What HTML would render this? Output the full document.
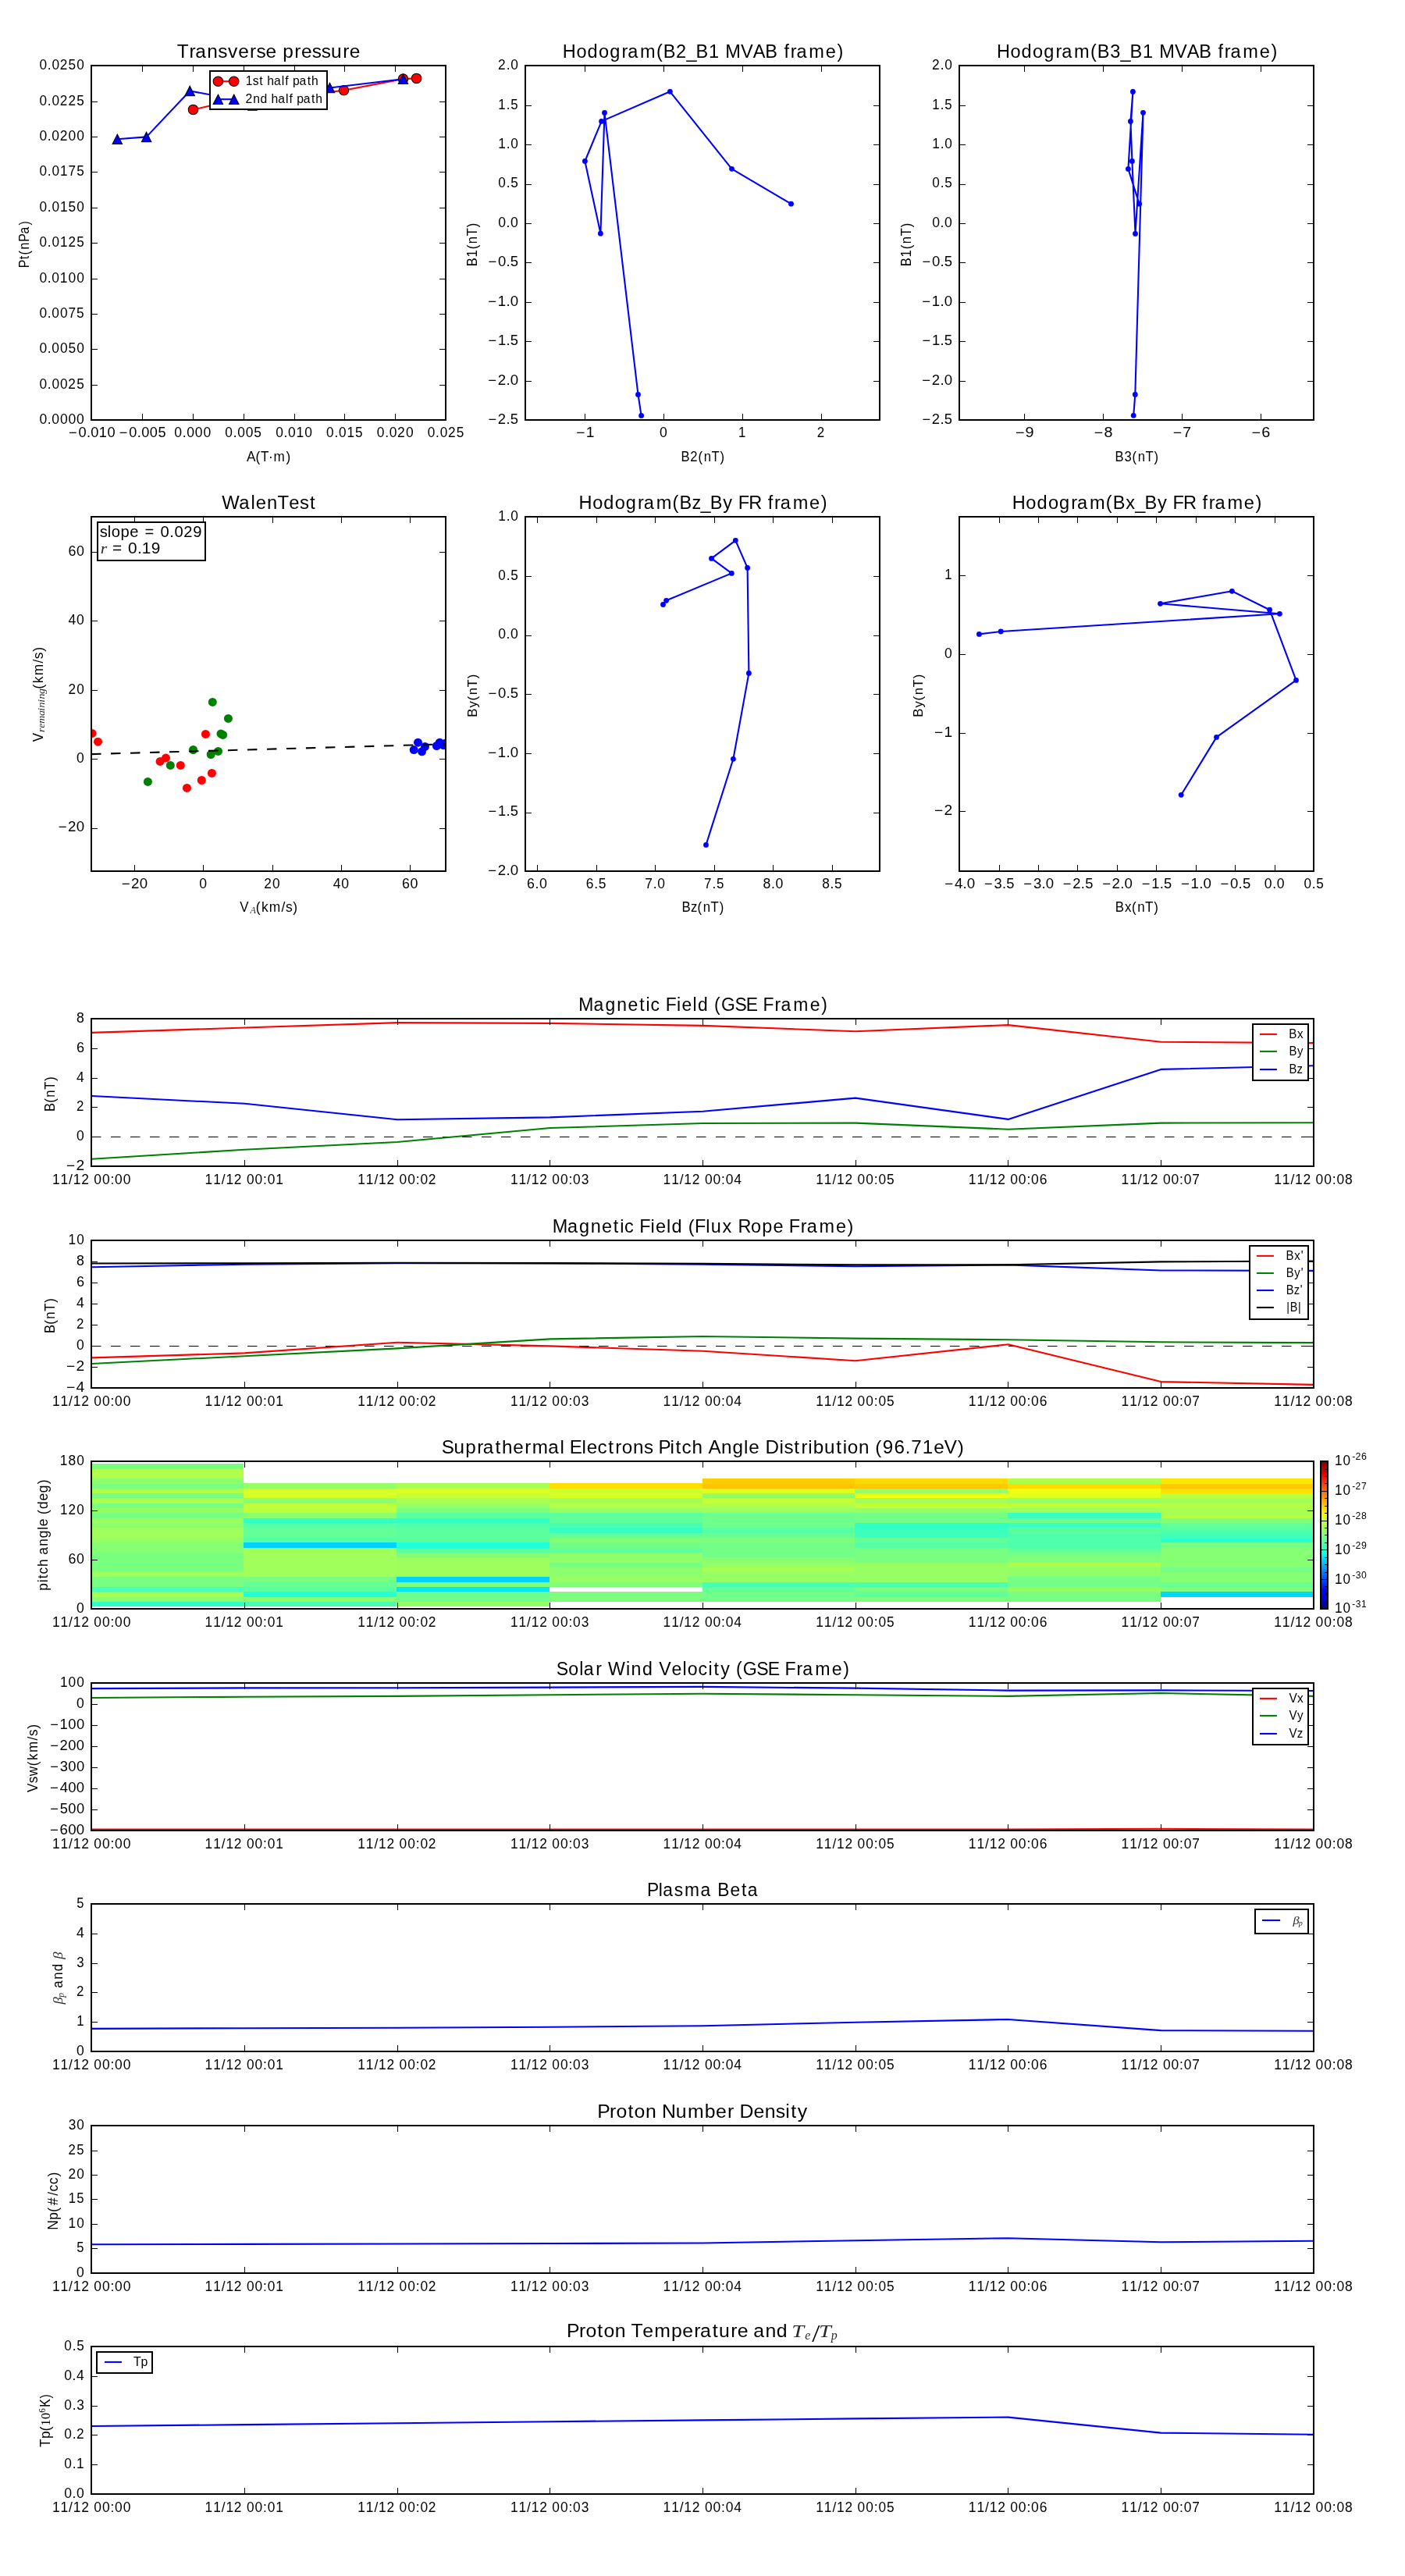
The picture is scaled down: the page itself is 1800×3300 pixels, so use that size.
<!DOCTYPE html>
<html><head><meta charset="utf-8"><title>Flux rope event plots</title>
<style>html,body{margin:0;padding:0;background:#fff}svg{display:block;will-change:transform}text{white-space:pre;font-kerning:none}</style></head><body>
<svg width="1800" height="3300" viewBox="0 0 1800 3300">
<rect x="0" y="0" width="1800" height="3300" fill="#fff"/>
<clipPath id="c1"><rect x="117" y="84" width="454" height="454"/></clipPath>
<g clip-path="url(#c1)">
<polyline points="247.50,140.40 269.00,135.60 323.40,130.00 440.50,115.80 516.50,101.10 533.60,100.40" fill="none" stroke="#ff0000" stroke-width="2.08" stroke-linejoin="round" stroke-linecap="butt"/>
<line x1="317.2" y1="140.8" x2="329.7" y2="140.8" stroke="#000" stroke-width="2.08"/>
<circle cx="247.5" cy="140.4" r="6.25" fill="#ff0000" stroke="#000" stroke-width="1.04"/>
<circle cx="440.5" cy="115.8" r="6.25" fill="#ff0000" stroke="#000" stroke-width="1.04"/>
<circle cx="516.5" cy="101.1" r="6.25" fill="#ff0000" stroke="#000" stroke-width="1.04"/>
<circle cx="533.6" cy="100.4" r="6.25" fill="#ff0000" stroke="#000" stroke-width="1.04"/>
<polyline points="150.30,178.30 187.60,175.40 243.20,116.50 269.00,121.20 340.00,127.00 422.50,112.50 516.50,101.30" fill="none" stroke="#0000ff" stroke-width="2.08" stroke-linejoin="round" stroke-linecap="butt"/>
<path d="M150.30 172.05 L156.55 184.55 L144.05 184.55 Z" fill="#0000ff" stroke="#000" stroke-width="1.04" stroke-linejoin="miter"/>
<path d="M187.60 169.15 L193.85 181.65 L181.35 181.65 Z" fill="#0000ff" stroke="#000" stroke-width="1.04" stroke-linejoin="miter"/>
<path d="M243.20 110.25 L249.45 122.75 L236.95 122.75 Z" fill="#0000ff" stroke="#000" stroke-width="1.04" stroke-linejoin="miter"/>
<path d="M422.50 106.25 L428.75 118.75 L416.25 118.75 Z" fill="#0000ff" stroke="#000" stroke-width="1.04" stroke-linejoin="miter"/>
<path d="M516.50 95.05 L522.75 107.55 L510.25 107.55 Z" fill="#0000ff" stroke="#000" stroke-width="1.04" stroke-linejoin="miter"/>
</g>
<path d="M117.5 538 v-8.33 M117.5 84 v8.33 M182.5 538 v-8.33 M182.5 84 v8.33 M247.5 538 v-8.33 M247.5 84 v8.33 M312.5 538 v-8.33 M312.5 84 v8.33 M377.5 538 v-8.33 M377.5 84 v8.33 M441.5 538 v-8.33 M441.5 84 v8.33 M506.5 538 v-8.33 M506.5 84 v8.33 M571.5 538 v-8.33 M571.5 84 v8.33 M117 538.5 h8.33 M571 538.5 h-8.33 M117 493.5 h8.33 M571 493.5 h-8.33 M117 447.5 h8.33 M571 447.5 h-8.33 M117 402.5 h8.33 M571 402.5 h-8.33 M117 357.5 h8.33 M571 357.5 h-8.33 M117 311.5 h8.33 M571 311.5 h-8.33 M117 266.5 h8.33 M571 266.5 h-8.33 M117 220.5 h8.33 M571 220.5 h-8.33 M117 175.5 h8.33 M571 175.5 h-8.33 M117 130.5 h8.33 M571 130.5 h-8.33 M117 84.5 h8.33 M571 84.5 h-8.33" stroke="#000" stroke-width="1" fill="none" shape-rendering="crispEdges"/>
<rect x="117" y="84" width="454" height="454" fill="none" stroke="#000" stroke-width="2" shape-rendering="crispEdges"/>
<text transform="translate(117.10,560.30) scale(1.0448,1)" x="-27.93 -15.93 -5.90 -0.71 9.34 19.59" y="0" font-family='"Liberation Sans", sans-serif' font-size="17.44" fill="#000">−0.010</text>
<text transform="translate(181.96,560.30) scale(1.0412,1)" x="-28.01 -15.97 -5.91 -0.70 9.49 19.61" y="0" font-family='"Liberation Sans", sans-serif' font-size="17.44" fill="#000">−0.005</text>
<text transform="translate(246.81,560.30) scale(1.0086,1)" x="-23.25 -12.94 -7.48 3.03 13.54" y="0" font-family='"Liberation Sans", sans-serif' font-size="17.44" fill="#000">0.000</text>
<text transform="translate(311.67,560.30) scale(0.9952,1)" x="-23.50 -13.09 -7.52 3.14 13.73" y="0" font-family='"Liberation Sans", sans-serif' font-size="17.44" fill="#000">0.005</text>
<text transform="translate(376.53,560.30) scale(0.9987,1)" x="-23.43 -13.05 -7.51 3.02 13.73" y="0" font-family='"Liberation Sans", sans-serif' font-size="17.44" fill="#000">0.010</text>
<text transform="translate(441.39,560.30) scale(0.9849,1)" x="-23.69 -13.20 -7.55 3.13 13.92" y="0" font-family='"Liberation Sans", sans-serif' font-size="17.44" fill="#000">0.015</text>
<text transform="translate(506.24,560.30) scale(1.0002,1)" x="-23.40 -13.03 -7.51 2.88 13.70" y="0" font-family='"Liberation Sans", sans-serif' font-size="17.44" fill="#000">0.020</text>
<text transform="translate(571.10,560.30) scale(0.9867,1)" x="-23.66 -13.18 -7.54 2.98 13.89" y="0" font-family='"Liberation Sans", sans-serif' font-size="17.44" fill="#000">0.025</text>
<text transform="translate(108.30,543.10) scale(1.0083,1)" x="-57.43 -47.12 -41.66 -31.15 -20.63 -10.11" y="0" font-family='"Liberation Sans", sans-serif' font-size="17.44" fill="#000">0.0000</text>
<text transform="translate(108.30,497.70) scale(0.9907,1)" x="-58.37 -47.92 -42.32 -31.61 -21.13 -10.27" y="0" font-family='"Liberation Sans", sans-serif' font-size="17.44" fill="#000">0.0025</text>
<text transform="translate(108.30,452.30) scale(0.9975,1)" x="-58.00 -47.61 -42.06 -31.43 -20.86 -10.17" y="0" font-family='"Liberation Sans", sans-serif' font-size="17.44" fill="#000">0.0050</text>
<text transform="translate(108.30,406.90) scale(0.9933,1)" x="-58.23 -47.80 -42.22 -31.54 -20.90 -10.26" y="0" font-family='"Liberation Sans", sans-serif' font-size="17.44" fill="#000">0.0075</text>
<text transform="translate(108.30,361.50) scale(1.0003,1)" x="-57.85 -47.48 -41.96 -31.44 -20.75 -10.15" y="0" font-family='"Liberation Sans", sans-serif' font-size="17.44" fill="#000">0.0100</text>
<text transform="translate(108.30,316.10) scale(0.9823,1)" x="-58.83 -48.31 -42.64 -31.93 -21.27 -10.32" y="0" font-family='"Liberation Sans", sans-serif' font-size="17.44" fill="#000">0.0125</text>
<text transform="translate(108.30,270.70) scale(0.9893,1)" x="-58.44 -47.98 -42.37 -31.74 -21.00 -10.21" y="0" font-family='"Liberation Sans", sans-serif' font-size="17.44" fill="#000">0.0150</text>
<text transform="translate(108.30,225.30) scale(0.9850,1)" x="-58.68 -48.18 -42.53 -31.85 -21.04 -10.30" y="0" font-family='"Liberation Sans", sans-serif' font-size="17.44" fill="#000">0.0175</text>
<text transform="translate(108.30,179.90) scale(1.0016,1)" x="-57.79 -47.42 -41.91 -31.54 -20.73 -10.15" y="0" font-family='"Liberation Sans", sans-serif' font-size="17.44" fill="#000">0.0200</text>
<text transform="translate(108.30,134.50) scale(0.9837,1)" x="-58.75 -48.24 -42.58 -32.03 -21.25 -10.31" y="0" font-family='"Liberation Sans", sans-serif' font-size="17.44" fill="#000">0.0225</text>
<text transform="translate(108.30,89.10) scale(0.9907,1)" x="-58.37 -47.92 -42.32 -31.84 -20.98 -10.21" y="0" font-family='"Liberation Sans", sans-serif' font-size="17.44" fill="#000">0.0250</text>
<text transform="translate(344.50,73.60) scale(0.9898,1)" x="-118.84 -103.14 -95.36 -80.00 -65.83 -53.11 -39.78 -24.76 -16.30 -3.96 10.23 17.97 33.12 41.86 55.82 67.89 80.35 95.69 104.42" y="0" font-family='"Liberation Sans", sans-serif' font-size="24.71" fill="#000">Transverse pressure</text>
<text transform="translate(344.20,591.00) scale(0.9853,1)" x="-28.51 -16.95 -10.46 -0.19 6.42 22.71" y="0" font-family='"Liberation Sans", sans-serif' font-size="17.44" fill="#000">A(T·m)</text>
<text transform="translate(37.00,313.20) rotate(-90) scale(0.9084,1)" x="-33.21 -21.06 -14.76 -6.83 3.84 14.97 27.21" y="0" font-family='"Liberation Sans", sans-serif' font-size="17.44" fill="#000">Pt(nPa)</text>
<rect x="269" y="91" width="150" height="48.8" fill="#fff" stroke="#000" stroke-width="2" shape-rendering="crispEdges"/>
<line x1="279.40" y1="104.20" x2="299.70" y2="104.20" stroke="#ff0000" stroke-width="2.08"/>
<circle cx="279.4" cy="104.2" r="6.25" fill="#ff0000" stroke="#000" stroke-width="1.04"/>
<circle cx="299.7" cy="104.2" r="6.25" fill="#ff0000" stroke="#000" stroke-width="1.04"/>
<line x1="279.40" y1="127.20" x2="299.70" y2="127.20" stroke="#0000ff" stroke-width="2.08"/>
<path d="M279.40 121.05 L285.65 133.55 L273.15 133.55 Z" fill="#0000ff" stroke="#000" stroke-width="1.04"/>
<path d="M299.70 121.05 L305.95 133.55 L293.45 133.55 Z" fill="#0000ff" stroke="#000" stroke-width="1.04"/>
<text transform="translate(314.40,108.80) scale(0.9828,1)" x="0.26 9.61 18.12 23.50 28.45 37.26 47.21 51.70 56.55 61.59 70.32 80.64 86.19" y="0" font-family='"Liberation Sans", sans-serif' font-size="15.99" fill="#000">1st half path</text>
<text transform="translate(314.40,131.80) scale(0.9819,1)" x="0.15 9.95 19.39 28.88 33.84 42.65 52.61 57.10 61.96 67.01 75.74 86.07 91.63" y="0" font-family='"Liberation Sans", sans-serif' font-size="15.99" fill="#000">2nd half path</text>
<clipPath id="c2"><rect x="673" y="84" width="454" height="454"/></clipPath>
<g clip-path="url(#c2)">
<polyline points="1013.50,261.20 937.50,216.30 858.40,117.30 770.60,155.40 749.40,206.50 769.40,299.20 774.50,144.40 817.50,505.40 821.60,532.40" fill="none" stroke="#0000ff" stroke-width="2.08" stroke-linejoin="round" stroke-linecap="butt"/>
<circle cx="1013.50" cy="261.20" r="3.4" fill="#0000ff"/>
<circle cx="937.50" cy="216.30" r="3.4" fill="#0000ff"/>
<circle cx="858.40" cy="117.30" r="3.4" fill="#0000ff"/>
<circle cx="770.60" cy="155.40" r="3.4" fill="#0000ff"/>
<circle cx="749.40" cy="206.50" r="3.4" fill="#0000ff"/>
<circle cx="769.40" cy="299.20" r="3.4" fill="#0000ff"/>
<circle cx="774.50" cy="144.40" r="3.4" fill="#0000ff"/>
<circle cx="817.50" cy="505.40" r="3.4" fill="#0000ff"/>
<circle cx="821.60" cy="532.40" r="3.4" fill="#0000ff"/>
</g>
<path d="M749.5 538 v-8.33 M749.5 84 v8.33 M850.5 538 v-8.33 M850.5 84 v8.33 M951.5 538 v-8.33 M951.5 84 v8.33 M1052.5 538 v-8.33 M1052.5 84 v8.33 M673 84.5 h8.33 M1127 84.5 h-8.33 M673 135.5 h8.33 M1127 135.5 h-8.33 M673 185.5 h8.33 M1127 185.5 h-8.33 M673 236.5 h8.33 M1127 236.5 h-8.33 M673 286.5 h8.33 M1127 286.5 h-8.33 M673 336.5 h8.33 M1127 336.5 h-8.33 M673 387.5 h8.33 M1127 387.5 h-8.33 M673 437.5 h8.33 M1127 437.5 h-8.33 M673 488.5 h8.33 M1127 488.5 h-8.33 M673 538.5 h8.33 M1127 538.5 h-8.33" stroke="#000" stroke-width="1" fill="none" shape-rendering="crispEdges"/>
<rect x="673" y="84" width="454" height="454" fill="none" stroke="#000" stroke-width="2" shape-rendering="crispEdges"/>
<text transform="translate(749.20,560.30) scale(1.1047,1)" x="-9.90 1.36" y="0" font-family='"Liberation Sans", sans-serif' font-size="17.44" fill="#000">−1</text>
<text transform="translate(850.00,560.30) scale(1.0073,1)" x="-4.85" y="0" font-family='"Liberation Sans", sans-serif' font-size="17.44" fill="#000">0</text>
<text transform="translate(950.80,560.30) scale(0.9621,1)" x="-4.94" y="0" font-family='"Liberation Sans", sans-serif' font-size="17.44" fill="#000">1</text>
<text transform="translate(1051.60,560.30) scale(0.9709,1)" x="-5.08" y="0" font-family='"Liberation Sans", sans-serif' font-size="17.44" fill="#000">2</text>
<text transform="translate(664.30,89.10) scale(0.9937,1)" x="-26.41 -15.77 -10.19" y="0" font-family='"Liberation Sans", sans-serif' font-size="17.44" fill="#000">2.0</text>
<text transform="translate(664.30,139.54) scale(0.9635,1)" x="-26.94 -16.19 -10.42" y="0" font-family='"Liberation Sans", sans-serif' font-size="17.44" fill="#000">1.5</text>
<text transform="translate(664.30,189.99) scale(0.9904,1)" x="-26.35 -15.81 -10.21" y="0" font-family='"Liberation Sans", sans-serif' font-size="17.44" fill="#000">1.0</text>
<text transform="translate(664.30,240.43) scale(0.9841,1)" x="-26.40 -15.90 -10.31" y="0" font-family='"Liberation Sans", sans-serif' font-size="17.44" fill="#000">0.5</text>
<text transform="translate(664.30,290.88) scale(1.0097,1)" x="-25.85 -15.56 -10.11" y="0" font-family='"Liberation Sans", sans-serif' font-size="17.44" fill="#000">0.0</text>
<text transform="translate(664.30,341.32) scale(1.0624,1)" x="-36.62 -24.81 -14.91 -9.90" y="0" font-family='"Liberation Sans", sans-serif' font-size="17.44" fill="#000">−0.5</text>
<text transform="translate(664.30,391.77) scale(1.0689,1)" x="-36.43 -24.79 -14.83 -9.81" y="0" font-family='"Liberation Sans", sans-serif' font-size="17.44" fill="#000">−1.0</text>
<text transform="translate(664.30,442.21) scale(1.0510,1)" x="-36.96 -25.12 -15.04 -9.96" y="0" font-family='"Liberation Sans", sans-serif' font-size="17.44" fill="#000">−1.5</text>
<text transform="translate(664.30,492.66) scale(1.0699,1)" x="-36.40 -24.88 -14.82 -9.81" y="0" font-family='"Liberation Sans", sans-serif' font-size="17.44" fill="#000">−2.0</text>
<text transform="translate(664.30,543.10) scale(1.0522,1)" x="-36.92 -25.21 -15.03 -9.95" y="0" font-family='"Liberation Sans", sans-serif' font-size="17.44" fill="#000">−2.5</text>
<text transform="translate(900.50,73.60) scale(0.9530,1)" x="-188.50 -170.04 -155.20 -140.06 -125.23 -109.27 -101.08 -84.46 -62.57 -53.16 -36.19 -22.15 -9.34 7.83 22.87 30.21 50.85 67.30 83.75 100.66 109.03 117.69 125.87 142.49 165.01 180.43" y="0" font-family='"Liberation Sans", sans-serif' font-size="24.71" fill="#000">Hodogram(B2_B1 MVAB frame)</text>
<text transform="translate(900.30,591.00) scale(0.9535,1)" x="-29.09 -16.79 -6.07 1.41 11.77 23.38" y="0" font-family='"Liberation Sans", sans-serif' font-size="17.44" fill="#000">B2(nT)</text>
<text transform="translate(610.90,313.60) rotate(-90) scale(0.9518,1)" x="-29.13 -16.66 -6.08 1.42 11.80 23.42" y="0" font-family='"Liberation Sans", sans-serif' font-size="17.44" fill="#000">B1(nT)</text>
<clipPath id="c3"><rect x="1229" y="84" width="454" height="454"/></clipPath>
<g clip-path="url(#c3)">
<polyline points="1459.60,261.20 1445.40,216.40 1451.40,117.50 1448.40,155.50 1450.40,206.50 1454.50,299.40 1464.50,144.30 1454.30,505.40 1452.20,532.30" fill="none" stroke="#0000ff" stroke-width="2.08" stroke-linejoin="round" stroke-linecap="butt"/>
<circle cx="1459.60" cy="261.20" r="3.4" fill="#0000ff"/>
<circle cx="1445.40" cy="216.40" r="3.4" fill="#0000ff"/>
<circle cx="1451.40" cy="117.50" r="3.4" fill="#0000ff"/>
<circle cx="1448.40" cy="155.50" r="3.4" fill="#0000ff"/>
<circle cx="1450.40" cy="206.50" r="3.4" fill="#0000ff"/>
<circle cx="1454.50" cy="299.40" r="3.4" fill="#0000ff"/>
<circle cx="1464.50" cy="144.30" r="3.4" fill="#0000ff"/>
<circle cx="1454.30" cy="505.40" r="3.4" fill="#0000ff"/>
<circle cx="1452.20" cy="532.30" r="3.4" fill="#0000ff"/>
</g>
<path d="M1312.5 538 v-8.33 M1312.5 84 v8.33 M1413.5 538 v-8.33 M1413.5 84 v8.33 M1514.5 538 v-8.33 M1514.5 84 v8.33 M1615.5 538 v-8.33 M1615.5 84 v8.33 M1229 84.5 h8.33 M1683 84.5 h-8.33 M1229 135.5 h8.33 M1683 135.5 h-8.33 M1229 185.5 h8.33 M1683 185.5 h-8.33 M1229 236.5 h8.33 M1683 236.5 h-8.33 M1229 286.5 h8.33 M1683 286.5 h-8.33 M1229 336.5 h8.33 M1683 336.5 h-8.33 M1229 387.5 h8.33 M1683 387.5 h-8.33 M1229 437.5 h8.33 M1683 437.5 h-8.33 M1229 488.5 h8.33 M1683 488.5 h-8.33 M1229 538.5 h8.33 M1683 538.5 h-8.33" stroke="#000" stroke-width="1" fill="none" shape-rendering="crispEdges"/>
<rect x="1229" y="84" width="454" height="454" fill="none" stroke="#000" stroke-width="2" shape-rendering="crispEdges"/>
<text transform="translate(1312.00,560.30) scale(1.1382,1)" x="-9.76 1.24" y="0" font-family='"Liberation Sans", sans-serif' font-size="17.44" fill="#000">−9</text>
<text transform="translate(1412.90,560.30) scale(1.1266,1)" x="-9.80 1.34" y="0" font-family='"Liberation Sans", sans-serif' font-size="17.44" fill="#000">−8</text>
<text transform="translate(1513.80,560.30) scale(1.1124,1)" x="-9.86 1.39" y="0" font-family='"Liberation Sans", sans-serif' font-size="17.44" fill="#000">−7</text>
<text transform="translate(1614.70,560.30) scale(1.1393,1)" x="-9.75 1.27" y="0" font-family='"Liberation Sans", sans-serif' font-size="17.44" fill="#000">−6</text>
<text transform="translate(1220.30,89.10) scale(0.9937,1)" x="-26.41 -15.77 -10.19" y="0" font-family='"Liberation Sans", sans-serif' font-size="17.44" fill="#000">2.0</text>
<text transform="translate(1220.30,139.54) scale(0.9635,1)" x="-26.94 -16.19 -10.42" y="0" font-family='"Liberation Sans", sans-serif' font-size="17.44" fill="#000">1.5</text>
<text transform="translate(1220.30,189.99) scale(0.9904,1)" x="-26.35 -15.81 -10.21" y="0" font-family='"Liberation Sans", sans-serif' font-size="17.44" fill="#000">1.0</text>
<text transform="translate(1220.30,240.43) scale(0.9841,1)" x="-26.40 -15.90 -10.31" y="0" font-family='"Liberation Sans", sans-serif' font-size="17.44" fill="#000">0.5</text>
<text transform="translate(1220.30,290.88) scale(1.0097,1)" x="-25.85 -15.56 -10.11" y="0" font-family='"Liberation Sans", sans-serif' font-size="17.44" fill="#000">0.0</text>
<text transform="translate(1220.30,341.32) scale(1.0624,1)" x="-36.62 -24.81 -14.91 -9.90" y="0" font-family='"Liberation Sans", sans-serif' font-size="17.44" fill="#000">−0.5</text>
<text transform="translate(1220.30,391.77) scale(1.0689,1)" x="-36.43 -24.79 -14.83 -9.81" y="0" font-family='"Liberation Sans", sans-serif' font-size="17.44" fill="#000">−1.0</text>
<text transform="translate(1220.30,442.21) scale(1.0510,1)" x="-36.96 -25.12 -15.04 -9.96" y="0" font-family='"Liberation Sans", sans-serif' font-size="17.44" fill="#000">−1.5</text>
<text transform="translate(1220.30,492.66) scale(1.0699,1)" x="-36.40 -24.88 -14.82 -9.81" y="0" font-family='"Liberation Sans", sans-serif' font-size="17.44" fill="#000">−2.0</text>
<text transform="translate(1220.30,543.10) scale(1.0522,1)" x="-36.92 -25.21 -15.03 -9.95" y="0" font-family='"Liberation Sans", sans-serif' font-size="17.44" fill="#000">−2.5</text>
<text transform="translate(1456.50,73.60) scale(0.9528,1)" x="-188.53 -170.06 -155.23 -140.08 -125.25 -109.28 -101.10 -84.47 -62.58 -53.17 -35.84 -22.15 -9.34 7.84 22.87 30.22 50.86 67.32 83.77 100.68 109.05 117.71 125.90 142.52 165.04 180.46" y="0" font-family='"Liberation Sans", sans-serif' font-size="24.71" fill="#000">Hodogram(B3_B1 MVAB frame)</text>
<text transform="translate(1456.30,591.00) scale(0.9530,1)" x="-29.10 -16.54 -6.08 1.41 11.78 23.39" y="0" font-family='"Liberation Sans", sans-serif' font-size="17.44" fill="#000">B3(nT)</text>
<text transform="translate(1167.00,313.60) rotate(-90) scale(0.9518,1)" x="-29.13 -16.66 -6.08 1.42 11.80 23.42" y="0" font-family='"Liberation Sans", sans-serif' font-size="17.44" fill="#000">B1(nT)</text>
<clipPath id="c4"><rect x="117" y="662" width="454" height="454"/></clipPath>
<g clip-path="url(#c4)">
<circle cx="118.0" cy="939.4" r="5.5" fill="#ff0000"/>
<circle cx="125.5" cy="950.2" r="5.5" fill="#ff0000"/>
<circle cx="205.1" cy="975.4" r="5.5" fill="#ff0000"/>
<circle cx="212.5" cy="971.1" r="5.5" fill="#ff0000"/>
<circle cx="231.3" cy="980.4" r="5.5" fill="#ff0000"/>
<circle cx="239.5" cy="1009.4" r="5.5" fill="#ff0000"/>
<circle cx="258.3" cy="999.5" r="5.5" fill="#ff0000"/>
<circle cx="271.4" cy="990.4" r="5.5" fill="#ff0000"/>
<circle cx="263.4" cy="940.4" r="5.5" fill="#ff0000"/>
<circle cx="189.4" cy="1001.4" r="5.5" fill="#008000"/>
<circle cx="218.3" cy="980.4" r="5.5" fill="#008000"/>
<circle cx="247.5" cy="960.5" r="5.5" fill="#008000"/>
<circle cx="279.5" cy="962.4" r="5.5" fill="#008000"/>
<circle cx="270.2" cy="966.5" r="5.5" fill="#008000"/>
<circle cx="283.0" cy="940.0" r="5.5" fill="#008000"/>
<circle cx="285.6" cy="941.4" r="5.5" fill="#008000"/>
<circle cx="292.4" cy="920.4" r="5.5" fill="#008000"/>
<circle cx="272.3" cy="899.4" r="5.5" fill="#008000"/>
<circle cx="535.5" cy="951.2" r="5.5" fill="#0000ff"/>
<circle cx="530.2" cy="960.6" r="5.5" fill="#0000ff"/>
<circle cx="540.5" cy="962.8" r="5.5" fill="#0000ff"/>
<circle cx="544.5" cy="956.4" r="5.5" fill="#0000ff"/>
<circle cx="559.4" cy="955.5" r="5.5" fill="#0000ff"/>
<circle cx="563.3" cy="951.2" r="5.5" fill="#0000ff"/>
<circle cx="568.0" cy="954.7" r="5.5" fill="#0000ff"/>
<circle cx="570.8" cy="952.2" r="5.5" fill="#0000ff"/>
<line x1="117" y1="966.1" x2="571" y2="953.3" stroke="#000" stroke-width="2.08" stroke-dasharray="12.5 12.5"/>
</g>
<path d="M172.5 1116 v-8.33 M172.5 662 v8.33 M260.5 1116 v-8.33 M260.5 662 v8.33 M349.5 1116 v-8.33 M349.5 662 v8.33 M437.5 1116 v-8.33 M437.5 662 v8.33 M525.5 1116 v-8.33 M525.5 662 v8.33 M117 707.5 h8.33 M571 707.5 h-8.33 M117 795.5 h8.33 M571 795.5 h-8.33 M117 884.5 h8.33 M571 884.5 h-8.33 M117 972.5 h8.33 M571 972.5 h-8.33 M117 1061.5 h8.33 M571 1061.5 h-8.33" stroke="#000" stroke-width="1" fill="none" shape-rendering="crispEdges"/>
<rect x="117" y="662" width="454" height="454" fill="none" stroke="#000" stroke-width="2" shape-rendering="crispEdges"/>
<text transform="translate(171.70,1138.30) scale(1.0723,1)" x="-14.99 -3.49 6.60" y="0" font-family='"Liberation Sans", sans-serif' font-size="17.44" fill="#000">−20</text>
<text transform="translate(260.10,1138.30) scale(1.0073,1)" x="-4.85" y="0" font-family='"Liberation Sans", sans-serif' font-size="17.44" fill="#000">0</text>
<text transform="translate(348.50,1138.30) scale(0.9896,1)" x="-10.43 0.50" y="0" font-family='"Liberation Sans", sans-serif' font-size="17.44" fill="#000">20</text>
<text transform="translate(436.90,1138.30) scale(1.0074,1)" x="-10.12 0.41" y="0" font-family='"Liberation Sans", sans-serif' font-size="17.44" fill="#000">40</text>
<text transform="translate(525.30,1138.30) scale(1.0246,1)" x="-10.03 0.32" y="0" font-family='"Liberation Sans", sans-serif' font-size="17.44" fill="#000">60</text>
<text transform="translate(108.30,711.80) scale(1.0246,1)" x="-20.38 -10.03" y="0" font-family='"Liberation Sans", sans-serif' font-size="17.44" fill="#000">60</text>
<text transform="translate(108.30,800.20) scale(1.0074,1)" x="-20.65 -10.12" y="0" font-family='"Liberation Sans", sans-serif' font-size="17.44" fill="#000">40</text>
<text transform="translate(108.30,888.60) scale(0.9896,1)" x="-21.15 -10.21" y="0" font-family='"Liberation Sans", sans-serif' font-size="17.44" fill="#000">20</text>
<text transform="translate(108.30,977.00) scale(1.0073,1)" x="-10.12" y="0" font-family='"Liberation Sans", sans-serif' font-size="17.44" fill="#000">0</text>
<text transform="translate(108.30,1065.40) scale(1.0723,1)" x="-31.39 -19.89 -9.80" y="0" font-family='"Liberation Sans", sans-serif' font-size="17.44" fill="#000">−20</text>
<text transform="translate(344.50,651.60) scale(0.9642,1)" x="-62.52 -39.58 -23.98 -17.44 -2.60 11.48 26.76 41.08 54.45" y="0" font-family='"Liberation Sans", sans-serif' font-size="24.71" fill="#000">WalenTest</text>
<rect x="125" y="669" width="138" height="48.8" fill="#fff" stroke="#000" stroke-width="2" shape-rendering="crispEdges"/>
<text transform="translate(127.70,687.50) scale(0.9929,1)" x="-0.03 10.20 15.21 27.09 38.82 50.42 58.22 72.24 78.42 90.25 96.43 108.20 120.40" y="0" font-family='"Liberation Sans", sans-serif' font-size="20.35" fill="#000">slope = 0.029</text>
<text transform="translate(129.00,709.20) scale(1.1583,1)" x="-0.33" y="0" font-family='"Liberation Serif", serif' font-size="18.75" font-style="italic" fill="#2a2a2a">r</text>
<text transform="translate(136.30,709.20) scale(1.0242,1)" x="0.08 7.55 21.24 27.14 38.70 44.49 56.19" y="0" font-family='"Liberation Sans", sans-serif' font-size="20.35" fill="#000"> = 0.19</text>
<text transform="translate(307.30,1167.50) scale(0.9698,1)" x="0.06" y="0" font-family='"Liberation Sans", sans-serif' font-size="17.44" fill="#000">V</text>
<text transform="translate(319.40,1169.80) scale(1.0285,1)" x="1.04" y="0" font-family='"Liberation Serif", serif' font-size="11.67" font-style="italic" fill="#2a2a2a">A</text>
<text transform="translate(327.80,1167.50) scale(0.9989,1)" x="-0.09 7.11 17.08 32.81 38.15 47.53" y="0" font-family='"Liberation Sans", sans-serif' font-size="17.44" fill="#000">(km/s)</text>
<text transform="translate(55.00,950.20) rotate(-90) scale(0.9698,1)" x="0.06" y="0" font-family='"Liberation Sans", sans-serif' font-size="17.44" fill="#000">V</text>
<text transform="translate(57.10,937.60) rotate(-90) scale(1.1867,1)" x="-0.26 4.13 9.14 17.42 22.65 26.28 31.93 35.57 41.06" y="0" font-family='"Liberation Serif", serif' font-size="11.67" font-style="italic" fill="#2a2a2a">remaining</text>
<text transform="translate(55.00,882.30) rotate(-90) scale(0.9989,1)" x="-0.09 7.11 17.08 32.81 38.15 47.53" y="0" font-family='"Liberation Sans", sans-serif' font-size="17.44" fill="#000">(km/s)</text>
<clipPath id="c5"><rect x="673" y="662" width="454" height="454"/></clipPath>
<g clip-path="url(#c5)">
<polyline points="849.50,774.50 853.60,769.30 937.30,734.40 911.50,715.40 942.30,692.30 957.60,727.40 959.40,862.40 939.40,972.30 904.50,1082.40" fill="none" stroke="#0000ff" stroke-width="2.08" stroke-linejoin="round" stroke-linecap="butt"/>
<circle cx="849.50" cy="774.50" r="3.4" fill="#0000ff"/>
<circle cx="853.60" cy="769.30" r="3.4" fill="#0000ff"/>
<circle cx="937.30" cy="734.40" r="3.4" fill="#0000ff"/>
<circle cx="911.50" cy="715.40" r="3.4" fill="#0000ff"/>
<circle cx="942.30" cy="692.30" r="3.4" fill="#0000ff"/>
<circle cx="957.60" cy="727.40" r="3.4" fill="#0000ff"/>
<circle cx="959.40" cy="862.40" r="3.4" fill="#0000ff"/>
<circle cx="939.40" cy="972.30" r="3.4" fill="#0000ff"/>
<circle cx="904.50" cy="1082.40" r="3.4" fill="#0000ff"/>
</g>
<path d="M688.5 1116 v-8.33 M688.5 662 v8.33 M764.5 1116 v-8.33 M764.5 662 v8.33 M839.5 1116 v-8.33 M839.5 662 v8.33 M915.5 1116 v-8.33 M915.5 662 v8.33 M990.5 1116 v-8.33 M990.5 662 v8.33 M1066.5 1116 v-8.33 M1066.5 662 v8.33 M673 662.5 h8.33 M1127 662.5 h-8.33 M673 738.5 h8.33 M1127 738.5 h-8.33 M673 814.5 h8.33 M1127 814.5 h-8.33 M673 889.5 h8.33 M1127 889.5 h-8.33 M673 965.5 h8.33 M1127 965.5 h-8.33 M673 1041.5 h8.33 M1127 1041.5 h-8.33 M673 1116.5 h8.33 M1127 1116.5 h-8.33" stroke="#000" stroke-width="1" fill="none" shape-rendering="crispEdges"/>
<rect x="673" y="662" width="454" height="454" fill="none" stroke="#000" stroke-width="2" shape-rendering="crispEdges"/>
<text transform="translate(688.00,1138.30) scale(1.0255,1)" x="-12.61 -2.43 2.90" y="0" font-family='"Liberation Sans", sans-serif' font-size="17.44" fill="#000">6.0</text>
<text transform="translate(763.60,1138.30) scale(0.9995,1)" x="-12.81 -2.43 3.04" y="0" font-family='"Liberation Sans", sans-serif' font-size="17.44" fill="#000">6.5</text>
<text transform="translate(839.20,1138.30) scale(1.0001,1)" x="-12.84 -2.43 3.10" y="0" font-family='"Liberation Sans", sans-serif' font-size="17.44" fill="#000">7.0</text>
<text transform="translate(914.80,1138.30) scale(0.9738,1)" x="-13.05 -2.43 3.24" y="0" font-family='"Liberation Sans", sans-serif' font-size="17.44" fill="#000">7.5</text>
<text transform="translate(990.40,1138.30) scale(1.0147,1)" x="-12.69 -2.43 2.98" y="0" font-family='"Liberation Sans", sans-serif' font-size="17.44" fill="#000">8.0</text>
<text transform="translate(1066.00,1138.30) scale(0.9888,1)" x="-12.90 -2.43 3.12" y="0" font-family='"Liberation Sans", sans-serif' font-size="17.44" fill="#000">8.5</text>
<text transform="translate(664.30,667.10) scale(0.9904,1)" x="-26.35 -15.81 -10.21" y="0" font-family='"Liberation Sans", sans-serif' font-size="17.44" fill="#000">1.0</text>
<text transform="translate(664.30,742.77) scale(0.9841,1)" x="-26.40 -15.90 -10.31" y="0" font-family='"Liberation Sans", sans-serif' font-size="17.44" fill="#000">0.5</text>
<text transform="translate(664.30,818.43) scale(1.0097,1)" x="-25.85 -15.56 -10.11" y="0" font-family='"Liberation Sans", sans-serif' font-size="17.44" fill="#000">0.0</text>
<text transform="translate(664.30,894.10) scale(1.0624,1)" x="-36.62 -24.81 -14.91 -9.90" y="0" font-family='"Liberation Sans", sans-serif' font-size="17.44" fill="#000">−0.5</text>
<text transform="translate(664.30,969.77) scale(1.0689,1)" x="-36.43 -24.79 -14.83 -9.81" y="0" font-family='"Liberation Sans", sans-serif' font-size="17.44" fill="#000">−1.0</text>
<text transform="translate(664.30,1045.43) scale(1.0510,1)" x="-36.96 -25.12 -15.04 -9.96" y="0" font-family='"Liberation Sans", sans-serif' font-size="17.44" fill="#000">−1.5</text>
<text transform="translate(664.30,1121.10) scale(1.0699,1)" x="-36.40 -24.88 -14.82 -9.81" y="0" font-family='"Liberation Sans", sans-serif' font-size="17.44" fill="#000">−2.0</text>
<text transform="translate(900.50,651.60) scale(0.9531,1)" x="-166.80 -148.34 -133.51 -118.37 -103.54 -87.58 -79.40 -62.78 -40.89 -31.48 -14.72 -3.15 9.65 27.11 40.79 47.38 61.70 78.98 87.34 96.00 104.18 120.80 143.31 158.73" y="0" font-family='"Liberation Sans", sans-serif' font-size="24.71" fill="#000">Hodogram(Bz_By FR frame)</text>
<text transform="translate(900.30,1168.00) scale(0.9620,1)" x="-27.92 -15.88 -7.01 0.39 10.66 22.19" y="0" font-family='"Liberation Sans", sans-serif' font-size="17.44" fill="#000">Bz(nT)</text>
<text transform="translate(610.90,891.20) rotate(-90) scale(0.9645,1)" x="-28.44 -15.93 -6.43 0.95 11.19 22.70" y="0" font-family='"Liberation Sans", sans-serif' font-size="17.44" fill="#000">By(nT)</text>
<clipPath id="c6"><rect x="1229" y="662" width="454" height="454"/></clipPath>
<g clip-path="url(#c6)">
<polyline points="1254.40,812.40 1282.20,809.00 1639.40,786.30 1486.50,773.30 1578.40,757.30 1626.60,781.20 1660.50,871.40 1558.50,944.40 1513.20,1018.30" fill="none" stroke="#0000ff" stroke-width="2.08" stroke-linejoin="round" stroke-linecap="butt"/>
<circle cx="1254.40" cy="812.40" r="3.4" fill="#0000ff"/>
<circle cx="1282.20" cy="809.00" r="3.4" fill="#0000ff"/>
<circle cx="1639.40" cy="786.30" r="3.4" fill="#0000ff"/>
<circle cx="1486.50" cy="773.30" r="3.4" fill="#0000ff"/>
<circle cx="1578.40" cy="757.30" r="3.4" fill="#0000ff"/>
<circle cx="1626.60" cy="781.20" r="3.4" fill="#0000ff"/>
<circle cx="1660.50" cy="871.40" r="3.4" fill="#0000ff"/>
<circle cx="1558.50" cy="944.40" r="3.4" fill="#0000ff"/>
<circle cx="1513.20" cy="1018.30" r="3.4" fill="#0000ff"/>
</g>
<path d="M1229.5 1116 v-8.33 M1229.5 662 v8.33 M1280.5 1116 v-8.33 M1280.5 662 v8.33 M1330.5 1116 v-8.33 M1330.5 662 v8.33 M1380.5 1116 v-8.33 M1380.5 662 v8.33 M1431.5 1116 v-8.33 M1431.5 662 v8.33 M1481.5 1116 v-8.33 M1481.5 662 v8.33 M1532.5 1116 v-8.33 M1532.5 662 v8.33 M1582.5 1116 v-8.33 M1582.5 662 v8.33 M1633.5 1116 v-8.33 M1633.5 662 v8.33 M1683.5 1116 v-8.33 M1683.5 662 v8.33 M1229 737.5 h8.33 M1683 737.5 h-8.33 M1229 838.5 h8.33 M1683 838.5 h-8.33 M1229 939.5 h8.33 M1683 939.5 h-8.33 M1229 1039.5 h8.33 M1683 1039.5 h-8.33" stroke="#000" stroke-width="1" fill="none" shape-rendering="crispEdges"/>
<rect x="1229" y="662" width="454" height="454" fill="none" stroke="#000" stroke-width="2" shape-rendering="crispEdges"/>
<text transform="translate(1229.10,1138.30) scale(1.0786,1)" x="-17.38 -5.75 4.04 8.99" y="0" font-family='"Liberation Sans", sans-serif' font-size="17.44" fill="#000">−4.0</text>
<text transform="translate(1279.54,1138.30) scale(1.0502,1)" x="-17.72 -5.75 4.22 9.31" y="0" font-family='"Liberation Sans", sans-serif' font-size="17.44" fill="#000">−3.5</text>
<text transform="translate(1329.99,1138.30) scale(1.0676,1)" x="-17.51 -5.74 4.11 9.13" y="0" font-family='"Liberation Sans", sans-serif' font-size="17.44" fill="#000">−3.0</text>
<text transform="translate(1380.43,1138.30) scale(1.0522,1)" x="-17.69 -5.98 4.21 9.28" y="0" font-family='"Liberation Sans", sans-serif' font-size="17.44" fill="#000">−2.5</text>
<text transform="translate(1430.88,1138.30) scale(1.0699,1)" x="-17.48 -5.96 4.10 9.10" y="0" font-family='"Liberation Sans", sans-serif' font-size="17.44" fill="#000">−2.0</text>
<text transform="translate(1481.32,1138.30) scale(1.0510,1)" x="-17.71 -5.87 4.21 9.29" y="0" font-family='"Liberation Sans", sans-serif' font-size="17.44" fill="#000">−1.5</text>
<text transform="translate(1531.77,1138.30) scale(1.0689,1)" x="-17.50 -5.86 4.10 9.12" y="0" font-family='"Liberation Sans", sans-serif' font-size="17.44" fill="#000">−1.0</text>
<text transform="translate(1582.21,1138.30) scale(1.0624,1)" x="-17.57 -5.77 4.14 9.14" y="0" font-family='"Liberation Sans", sans-serif' font-size="17.44" fill="#000">−0.5</text>
<text transform="translate(1632.66,1138.30) scale(1.0097,1)" x="-12.73 -2.43 3.02" y="0" font-family='"Liberation Sans", sans-serif' font-size="17.44" fill="#000">0.0</text>
<text transform="translate(1683.10,1138.30) scale(0.9841,1)" x="-12.93 -2.43 3.16" y="0" font-family='"Liberation Sans", sans-serif' font-size="17.44" fill="#000">0.5</text>
<text transform="translate(1220.30,741.90) scale(0.9621,1)" x="-10.45" y="0" font-family='"Liberation Sans", sans-serif' font-size="17.44" fill="#000">1</text>
<text transform="translate(1220.30,842.70) scale(1.0073,1)" x="-10.12" y="0" font-family='"Liberation Sans", sans-serif' font-size="17.44" fill="#000">0</text>
<text transform="translate(1220.30,943.50) scale(1.1047,1)" x="-21.02 -9.76" y="0" font-family='"Liberation Sans", sans-serif' font-size="17.44" fill="#000">−1</text>
<text transform="translate(1220.30,1044.30) scale(1.1053,1)" x="-21.01 -9.85" y="0" font-family='"Liberation Sans", sans-serif' font-size="17.44" fill="#000">−2</text>
<text transform="translate(1456.50,651.60) scale(0.9550,1)" x="-167.29 -148.86 -134.06 -118.95 -104.15 -88.22 -80.06 -63.48 -41.62 -32.24 -14.87 -2.36 10.42 27.84 41.51 48.07 62.37 79.61 87.96 96.60 104.76 121.34 143.81 159.21" y="0" font-family='"Liberation Sans", sans-serif' font-size="24.71" fill="#000">Hodogram(Bx_By FR frame)</text>
<text transform="translate(1456.30,1168.00) scale(0.9705,1)" x="-28.31 -15.89 -6.41 0.91 11.09 22.54" y="0" font-family='"Liberation Sans", sans-serif' font-size="17.44" fill="#000">Bx(nT)</text>
<text transform="translate(1182.00,891.20) rotate(-90) scale(0.9645,1)" x="-28.44 -15.93 -6.43 0.95 11.19 22.70" y="0" font-family='"Liberation Sans", sans-serif' font-size="17.44" fill="#000">By(nT)</text>
<clipPath id="p1"><rect x="117" y="1305" width="1566" height="189"/></clipPath>
<g clip-path="url(#p1)">
<line x1="117" y1="1456.5" x2="1683" y2="1456.5" stroke="#000" stroke-width="1.04" stroke-dasharray="12.5 12.5"/>
<polyline points="117.70,1322.90 313.36,1316.50 509.02,1310.10 704.68,1310.90 900.34,1313.90 1096.00,1321.20 1291.66,1313.10 1487.32,1334.80 1682.98,1336.10" fill="none" stroke="#ff0000" stroke-width="2.08" stroke-linejoin="round" stroke-linecap="butt"/>
<polyline points="117.70,1484.70 313.36,1472.80 509.02,1463.00 704.68,1445.00 900.34,1439.00 1096.00,1438.60 1291.66,1446.70 1487.32,1438.60 1682.98,1438.20" fill="none" stroke="#008000" stroke-width="2.08" stroke-linejoin="round" stroke-linecap="butt"/>
<polyline points="117.70,1404.00 313.36,1413.80 509.02,1434.30 704.68,1431.40 900.34,1423.70 1096.00,1406.60 1291.66,1433.90 1487.32,1369.90 1682.98,1365.20" fill="none" stroke="#0000ff" stroke-width="2.08" stroke-linejoin="round" stroke-linecap="butt"/>
</g>
<path d="M117.5 1494 v-8.33 M117.5 1305 v8.33 M313.5 1494 v-8.33 M313.5 1305 v8.33 M509.5 1494 v-8.33 M509.5 1305 v8.33 M704.5 1494 v-8.33 M704.5 1305 v8.33 M900.5 1494 v-8.33 M900.5 1305 v8.33 M1096.5 1494 v-8.33 M1096.5 1305 v8.33 M1291.5 1494 v-8.33 M1291.5 1305 v8.33 M1487.5 1494 v-8.33 M1487.5 1305 v8.33 M1682.5 1494 v-8.33 M1682.5 1305 v8.33 M117 1494.5 h8.33 M1683 1494.5 h-8.33 M117 1456.5 h8.33 M1683 1456.5 h-8.33 M117 1418.5 h8.33 M1683 1418.5 h-8.33 M117 1381.5 h8.33 M1683 1381.5 h-8.33 M117 1343.5 h8.33 M1683 1343.5 h-8.33 M117 1305.5 h8.33 M1683 1305.5 h-8.33" stroke="#000" stroke-width="1" fill="none" shape-rendering="crispEdges"/>
<rect x="117" y="1305" width="1566" height="189" fill="none" stroke="#000" stroke-width="2" shape-rendering="crispEdges"/>
<text transform="translate(117.20,1516.70) scale(0.9998,1)" x="-50.33 -39.73 -29.09 -23.50 -13.03 -2.42 3.10 13.71 24.25 29.93 40.54" y="0" font-family='"Liberation Sans", sans-serif' font-size="17.44" fill="#000">11/12 00:00</text>
<text transform="translate(312.86,1516.70) scale(0.9948,1)" x="-50.56 -39.90 -29.23 -23.59 -13.07 -2.42 3.14 13.80 24.39 30.10 40.68" y="0" font-family='"Liberation Sans", sans-serif' font-size="17.44" fill="#000">11/12 00:01</text>
<text transform="translate(508.52,1516.70) scale(0.9956,1)" x="-50.52 -39.87 -29.21 -23.58 -13.06 -2.42 3.13 13.78 24.36 30.07 40.50" y="0" font-family='"Liberation Sans", sans-serif' font-size="17.44" fill="#000">11/12 00:02</text>
<text transform="translate(704.18,1516.70) scale(0.9951,1)" x="-50.55 -39.89 -29.22 -23.59 -13.07 -2.42 3.14 13.79 24.38 30.09 40.77" y="0" font-family='"Liberation Sans", sans-serif' font-size="17.44" fill="#000">11/12 00:03</text>
<text transform="translate(899.84,1516.70) scale(0.9998,1)" x="-50.33 -39.72 -29.09 -23.50 -13.03 -2.42 3.10 13.70 24.25 29.93 40.53" y="0" font-family='"Liberation Sans", sans-serif' font-size="17.44" fill="#000">11/12 00:04</text>
<text transform="translate(1095.50,1516.70) scale(0.9931,1)" x="-50.64 -39.96 -29.27 -23.63 -13.08 -2.42 3.15 13.83 24.43 30.16 40.78" y="0" font-family='"Liberation Sans", sans-serif' font-size="17.44" fill="#000">11/12 00:05</text>
<text transform="translate(1291.16,1516.70) scale(1.0038,1)" x="-50.15 -39.59 -28.99 -23.43 -12.99 -2.42 3.07 13.63 24.15 29.79 40.35" y="0" font-family='"Liberation Sans", sans-serif' font-size="17.44" fill="#000">11/12 00:06</text>
<text transform="translate(1486.82,1516.70) scale(0.9972,1)" x="-50.45 -39.81 -29.16 -23.55 -13.05 -2.42 3.12 13.75 24.32 30.02 40.62" y="0" font-family='"Liberation Sans", sans-serif' font-size="17.44" fill="#000">11/12 00:07</text>
<text transform="translate(1682.48,1516.70) scale(1.0010,1)" x="-50.27 -39.68 -29.06 -23.48 -13.02 -2.42 3.09 13.68 24.22 29.89 40.48" y="0" font-family='"Liberation Sans", sans-serif' font-size="17.44" fill="#000">11/12 00:08</text>
<text transform="translate(108.30,1498.60) scale(1.1053,1)" x="-21.01 -9.85" y="0" font-family='"Liberation Sans", sans-serif' font-size="17.44" fill="#000">−2</text>
<text transform="translate(108.30,1460.90) scale(1.0073,1)" x="-10.12" y="0" font-family='"Liberation Sans", sans-serif' font-size="17.44" fill="#000">0</text>
<text transform="translate(108.30,1423.20) scale(0.9709,1)" x="-10.54" y="0" font-family='"Liberation Sans", sans-serif' font-size="17.44" fill="#000">2</text>
<text transform="translate(108.30,1385.50) scale(1.0074,1)" x="-10.12" y="0" font-family='"Liberation Sans", sans-serif' font-size="17.44" fill="#000">4</text>
<text transform="translate(108.30,1347.80) scale(1.0425,1)" x="-9.94" y="0" font-family='"Liberation Sans", sans-serif' font-size="17.44" fill="#000">6</text>
<text transform="translate(108.30,1310.10) scale(1.0182,1)" x="-10.06" y="0" font-family='"Liberation Sans", sans-serif' font-size="17.44" fill="#000">8</text>
<text transform="translate(900.50,1294.60) scale(0.9282,1)" x="-171.53 -150.80 -134.66 -118.78 -103.37 -87.60 -78.57 -72.08 -58.34 -51.45 -36.09 -29.15 -14.05 -7.07 8.29 15.73 25.22 44.14 59.59 76.18 83.07 99.20 107.68 124.82 147.84 163.58" y="0" font-family='"Liberation Sans", sans-serif' font-size="24.71" fill="#000">Magnetic Field (GSE Frame)</text>
<text transform="translate(70.00,1401.70) rotate(-90) scale(0.9497,1)" x="-23.60 -11.67 -4.15 6.26 17.90" y="0" font-family='"Liberation Sans", sans-serif' font-size="17.44" fill="#000">B(nT)</text>
<rect x="1605" y="1312" width="71" height="72" fill="#fff" stroke="#000" stroke-width="2" shape-rendering="crispEdges"/>
<line x1="1614.00" y1="1324.90" x2="1635.90" y2="1324.90" stroke="#ff0000" stroke-width="2.08"/>
<text transform="translate(1651.40,1329.70) scale(0.9456,1)" x="-0.07 11.11" y="0" font-family='"Liberation Sans", sans-serif' font-size="15.99" fill="#000">Bx</text>
<line x1="1614.00" y1="1346.90" x2="1635.90" y2="1346.90" stroke="#008000" stroke-width="2.08"/>
<text transform="translate(1651.40,1351.70) scale(0.9312,1)" x="0.02 11.38" y="0" font-family='"Liberation Sans", sans-serif' font-size="15.99" fill="#000">By</text>
<line x1="1614.00" y1="1370.00" x2="1635.90" y2="1370.00" stroke="#0000ff" stroke-width="2.08"/>
<text transform="translate(1651.40,1374.80) scale(0.9258,1)" x="0.05 11.02" y="0" font-family='"Liberation Sans", sans-serif' font-size="15.99" fill="#000">Bz</text>
<clipPath id="p2"><rect x="117" y="1589" width="1566" height="189"/></clipPath>
<g clip-path="url(#p2)">
<line x1="117" y1="1724.5" x2="1683" y2="1724.5" stroke="#000" stroke-width="1.04" stroke-dasharray="12.5 12.5"/>
<polyline points="117.70,1739.40 313.36,1733.40 509.02,1719.70 704.68,1724.40 900.34,1730.80 1096.00,1743.20 1291.66,1722.30 1487.32,1770.10 1682.98,1773.90" fill="none" stroke="#ff0000" stroke-width="2.08" stroke-linejoin="round" stroke-linecap="butt"/>
<polyline points="117.70,1747.00 313.36,1737.20 509.02,1727.40 704.68,1715.40 900.34,1712.00 1096.00,1714.60 1291.66,1716.30 1487.32,1719.30 1682.98,1720.10" fill="none" stroke="#008000" stroke-width="2.08" stroke-linejoin="round" stroke-linecap="butt"/>
<polyline points="117.70,1623.20 313.36,1619.80 509.02,1618.10 704.68,1618.50 900.34,1619.60 1096.00,1622.30 1291.66,1620.40 1487.32,1627.50 1682.98,1627.90" fill="none" stroke="#0000ff" stroke-width="2.08" stroke-linejoin="round" stroke-linecap="butt"/>
<polyline points="117.70,1618.50 313.36,1618.30 509.02,1617.70 704.68,1618.10 900.34,1618.90 1096.00,1620.20 1291.66,1620.20 1487.32,1616.40 1682.98,1615.50" fill="none" stroke="#000000" stroke-width="2.08" stroke-linejoin="round" stroke-linecap="butt"/>
</g>
<path d="M117.5 1778 v-8.33 M117.5 1589 v8.33 M313.5 1778 v-8.33 M313.5 1589 v8.33 M509.5 1778 v-8.33 M509.5 1589 v8.33 M704.5 1778 v-8.33 M704.5 1589 v8.33 M900.5 1778 v-8.33 M900.5 1589 v8.33 M1096.5 1778 v-8.33 M1096.5 1589 v8.33 M1291.5 1778 v-8.33 M1291.5 1589 v8.33 M1487.5 1778 v-8.33 M1487.5 1589 v8.33 M1682.5 1778 v-8.33 M1682.5 1589 v8.33 M117 1778.5 h8.33 M1683 1778.5 h-8.33 M117 1751.5 h8.33 M1683 1751.5 h-8.33 M117 1724.5 h8.33 M1683 1724.5 h-8.33 M117 1697.5 h8.33 M1683 1697.5 h-8.33 M117 1670.5 h8.33 M1683 1670.5 h-8.33 M117 1643.5 h8.33 M1683 1643.5 h-8.33 M117 1616.5 h8.33 M1683 1616.5 h-8.33 M117 1589.5 h8.33 M1683 1589.5 h-8.33" stroke="#000" stroke-width="1" fill="none" shape-rendering="crispEdges"/>
<rect x="117" y="1589" width="1566" height="189" fill="none" stroke="#000" stroke-width="2" shape-rendering="crispEdges"/>
<text transform="translate(117.20,1800.70) scale(0.9998,1)" x="-50.33 -39.73 -29.09 -23.50 -13.03 -2.42 3.10 13.71 24.25 29.93 40.54" y="0" font-family='"Liberation Sans", sans-serif' font-size="17.44" fill="#000">11/12 00:00</text>
<text transform="translate(312.86,1800.70) scale(0.9948,1)" x="-50.56 -39.90 -29.23 -23.59 -13.07 -2.42 3.14 13.80 24.39 30.10 40.68" y="0" font-family='"Liberation Sans", sans-serif' font-size="17.44" fill="#000">11/12 00:01</text>
<text transform="translate(508.52,1800.70) scale(0.9956,1)" x="-50.52 -39.87 -29.21 -23.58 -13.06 -2.42 3.13 13.78 24.36 30.07 40.50" y="0" font-family='"Liberation Sans", sans-serif' font-size="17.44" fill="#000">11/12 00:02</text>
<text transform="translate(704.18,1800.70) scale(0.9951,1)" x="-50.55 -39.89 -29.22 -23.59 -13.07 -2.42 3.14 13.79 24.38 30.09 40.77" y="0" font-family='"Liberation Sans", sans-serif' font-size="17.44" fill="#000">11/12 00:03</text>
<text transform="translate(899.84,1800.70) scale(0.9998,1)" x="-50.33 -39.72 -29.09 -23.50 -13.03 -2.42 3.10 13.70 24.25 29.93 40.53" y="0" font-family='"Liberation Sans", sans-serif' font-size="17.44" fill="#000">11/12 00:04</text>
<text transform="translate(1095.50,1800.70) scale(0.9931,1)" x="-50.64 -39.96 -29.27 -23.63 -13.08 -2.42 3.15 13.83 24.43 30.16 40.78" y="0" font-family='"Liberation Sans", sans-serif' font-size="17.44" fill="#000">11/12 00:05</text>
<text transform="translate(1291.16,1800.70) scale(1.0038,1)" x="-50.15 -39.59 -28.99 -23.43 -12.99 -2.42 3.07 13.63 24.15 29.79 40.35" y="0" font-family='"Liberation Sans", sans-serif' font-size="17.44" fill="#000">11/12 00:06</text>
<text transform="translate(1486.82,1800.70) scale(0.9972,1)" x="-50.45 -39.81 -29.16 -23.55 -13.05 -2.42 3.12 13.75 24.32 30.02 40.62" y="0" font-family='"Liberation Sans", sans-serif' font-size="17.44" fill="#000">11/12 00:07</text>
<text transform="translate(1682.48,1800.70) scale(1.0010,1)" x="-50.27 -39.68 -29.06 -23.48 -13.02 -2.42 3.09 13.68 24.22 29.89 40.48" y="0" font-family='"Liberation Sans", sans-serif' font-size="17.44" fill="#000">11/12 00:08</text>
<text transform="translate(108.30,1782.60) scale(1.1173,1)" x="-20.84 -9.59" y="0" font-family='"Liberation Sans", sans-serif' font-size="17.44" fill="#000">−4</text>
<text transform="translate(108.30,1755.67) scale(1.1053,1)" x="-21.01 -9.85" y="0" font-family='"Liberation Sans", sans-serif' font-size="17.44" fill="#000">−2</text>
<text transform="translate(108.30,1728.74) scale(1.0073,1)" x="-10.12" y="0" font-family='"Liberation Sans", sans-serif' font-size="17.44" fill="#000">0</text>
<text transform="translate(108.30,1701.81) scale(0.9709,1)" x="-10.54" y="0" font-family='"Liberation Sans", sans-serif' font-size="17.44" fill="#000">2</text>
<text transform="translate(108.30,1674.89) scale(1.0074,1)" x="-10.12" y="0" font-family='"Liberation Sans", sans-serif' font-size="17.44" fill="#000">4</text>
<text transform="translate(108.30,1647.96) scale(1.0425,1)" x="-9.94" y="0" font-family='"Liberation Sans", sans-serif' font-size="17.44" fill="#000">6</text>
<text transform="translate(108.30,1621.03) scale(1.0182,1)" x="-10.06" y="0" font-family='"Liberation Sans", sans-serif' font-size="17.44" fill="#000">8</text>
<text transform="translate(108.30,1594.10) scale(0.9859,1)" x="-21.07 -10.23" y="0" font-family='"Liberation Sans", sans-serif' font-size="17.44" fill="#000">10</text>
<text transform="translate(900.50,1578.60) scale(0.9485,1)" x="-203.24 -182.89 -167.08 -151.55 -136.47 -120.97 -112.11 -105.84 -92.33 -85.70 -70.54 -63.84 -48.98 -42.23 -27.13 -19.88 -11.07 4.07 10.91 26.41 40.19 47.33 64.78 79.99 94.98 109.64 116.28 132.15 140.38 157.09 179.69 195.17" y="0" font-family='"Liberation Sans", sans-serif' font-size="24.71" fill="#000">Magnetic Field (Flux Rope Frame)</text>
<text transform="translate(70.00,1685.70) rotate(-90) scale(0.9497,1)" x="-23.60 -11.67 -4.15 6.26 17.90" y="0" font-family='"Liberation Sans", sans-serif' font-size="17.44" fill="#000">B(nT)</text>
<rect x="1601" y="1596" width="75" height="94" fill="#fff" stroke="#000" stroke-width="2" shape-rendering="crispEdges"/>
<line x1="1609.90" y1="1608.90" x2="1631.90" y2="1608.90" stroke="#ff0000" stroke-width="2.08"/>
<text transform="translate(1647.60,1613.70) scale(0.9372,1)" x="-0.02 11.25 20.50" y="0" font-family='"Liberation Sans", sans-serif' font-size="15.99" fill="#000">Bx'</text>
<line x1="1609.90" y1="1631.00" x2="1631.90" y2="1631.00" stroke="#008000" stroke-width="2.08"/>
<text transform="translate(1647.60,1635.80) scale(0.9241,1)" x="0.06 11.50 20.81" y="0" font-family='"Liberation Sans", sans-serif' font-size="15.99" fill="#000">By'</text>
<line x1="1609.90" y1="1653.00" x2="1631.90" y2="1653.00" stroke="#0000ff" stroke-width="2.08"/>
<text transform="translate(1647.60,1657.70) scale(0.9186,1)" x="0.10 11.13 19.88" y="0" font-family='"Liberation Sans", sans-serif' font-size="15.99" fill="#000">Bz'</text>
<line x1="1609.90" y1="1675.00" x2="1631.90" y2="1675.00" stroke="#000000" stroke-width="2.08"/>
<text transform="translate(1647.60,1679.70) scale(0.8973,1)" x="0.66 5.71 17.29" y="0" font-family='"Liberation Sans", sans-serif' font-size="15.99" fill="#000">|B|</text>
<g shape-rendering="crispEdges">
<rect x="117" y="1875" width="195" height="7" fill="#78ff7d"/>
<rect x="117" y="1882" width="195" height="12" fill="#b2ff4b"/>
<rect x="117" y="1894" width="195" height="7" fill="#8cff6e"/>
<rect x="117" y="1901" width="195" height="6" fill="#78ff82"/>
<rect x="117" y="1907" width="195" height="6" fill="#b2ff4b"/>
<rect x="117" y="1913" width="195" height="6" fill="#78ff82"/>
<rect x="117" y="1919" width="195" height="7" fill="#aaff50"/>
<rect x="117" y="1926" width="195" height="6" fill="#78ff82"/>
<rect x="117" y="1932" width="195" height="6" fill="#96ff64"/>
<rect x="117" y="1938" width="195" height="7" fill="#78ff82"/>
<rect x="117" y="1945" width="195" height="6" fill="#9bff5f"/>
<rect x="117" y="1951" width="195" height="6" fill="#8cff6e"/>
<rect x="117" y="1957" width="195" height="13" fill="#a0ff5a"/>
<rect x="117" y="1970" width="195" height="6" fill="#96ff64"/>
<rect x="117" y="1976" width="195" height="13" fill="#87ff73"/>
<rect x="117" y="1989" width="195" height="25" fill="#78ff7d"/>
<rect x="117" y="2014" width="195" height="6" fill="#a0ff5a"/>
<rect x="117" y="2020" width="195" height="13" fill="#78ff82"/>
<rect x="117" y="2033" width="195" height="6" fill="#46ffb9"/>
<rect x="117" y="2039" width="195" height="7" fill="#a5ff55"/>
<rect x="117" y="2046" width="195" height="6" fill="#8cff6e"/>
<rect x="117" y="2052" width="195" height="6" fill="#2dffc8"/>
<rect x="312" y="1900" width="196" height="7" fill="#96ff64"/>
<rect x="312" y="1907" width="196" height="12" fill="#d7ff28"/>
<rect x="312" y="1919" width="196" height="7" fill="#8cff6e"/>
<rect x="312" y="1926" width="196" height="12" fill="#beff3c"/>
<rect x="312" y="1938" width="196" height="7" fill="#8cff6e"/>
<rect x="312" y="1945" width="196" height="6" fill="#32ffc3"/>
<rect x="312" y="1951" width="196" height="6" fill="#55ffa5"/>
<rect x="312" y="1957" width="196" height="13" fill="#64ff96"/>
<rect x="312" y="1970" width="196" height="6" fill="#55ffaa"/>
<rect x="312" y="1976" width="196" height="7" fill="#00d2ff"/>
<rect x="312" y="1983" width="196" height="37" fill="#a0ff5a"/>
<rect x="312" y="2020" width="196" height="7" fill="#78ff82"/>
<rect x="312" y="2027" width="196" height="6" fill="#64ff96"/>
<rect x="312" y="2033" width="196" height="6" fill="#5affa0"/>
<rect x="312" y="2039" width="196" height="7" fill="#23ffd7"/>
<rect x="312" y="2046" width="196" height="6" fill="#8cff6e"/>
<rect x="312" y="2052" width="196" height="6" fill="#4bffaf"/>
<rect x="508" y="1900" width="196" height="7" fill="#aaff50"/>
<rect x="508" y="1907" width="196" height="6" fill="#e1ff1e"/>
<rect x="508" y="1913" width="196" height="6" fill="#c3ff37"/>
<rect x="508" y="1919" width="196" height="7" fill="#aaff50"/>
<rect x="508" y="1926" width="196" height="6" fill="#96ff64"/>
<rect x="508" y="1932" width="196" height="6" fill="#7dff7d"/>
<rect x="508" y="1938" width="196" height="7" fill="#5affa0"/>
<rect x="508" y="1945" width="196" height="6" fill="#32ffc3"/>
<rect x="508" y="1951" width="196" height="6" fill="#50ffaa"/>
<rect x="508" y="1957" width="196" height="19" fill="#5affa0"/>
<rect x="508" y="1976" width="196" height="7" fill="#1effdc"/>
<rect x="508" y="1983" width="196" height="6" fill="#5affa0"/>
<rect x="508" y="1989" width="196" height="6" fill="#82ff78"/>
<rect x="508" y="1995" width="196" height="25" fill="#9eff5c"/>
<rect x="508" y="2020" width="196" height="7" fill="#00d2ff"/>
<rect x="508" y="2027" width="196" height="6" fill="#82ff78"/>
<rect x="508" y="2033" width="196" height="6" fill="#00ebf0"/>
<rect x="508" y="2039" width="196" height="13" fill="#6eff8c"/>
<rect x="508" y="2052" width="196" height="6" fill="#96ff64"/>
<rect x="704" y="1900" width="196" height="7" fill="#ffde00"/>
<rect x="704" y="1907" width="196" height="6" fill="#cdff2d"/>
<rect x="704" y="1913" width="196" height="6" fill="#daff23"/>
<rect x="704" y="1919" width="196" height="7" fill="#a0ff5a"/>
<rect x="704" y="1926" width="196" height="6" fill="#b4ff46"/>
<rect x="704" y="1932" width="196" height="6" fill="#96ff64"/>
<rect x="704" y="1938" width="196" height="13" fill="#5fff9b"/>
<rect x="704" y="1951" width="196" height="6" fill="#46ffb4"/>
<rect x="704" y="1957" width="196" height="7" fill="#32ffc8"/>
<rect x="704" y="1964" width="196" height="6" fill="#5fff9b"/>
<rect x="704" y="1970" width="196" height="6" fill="#82ff78"/>
<rect x="704" y="1976" width="196" height="7" fill="#73ff87"/>
<rect x="704" y="1983" width="196" height="6" fill="#5fff9b"/>
<rect x="704" y="1989" width="196" height="13" fill="#91ff69"/>
<rect x="704" y="2002" width="196" height="6" fill="#78ff82"/>
<rect x="704" y="2008" width="196" height="12" fill="#8cff6e"/>
<rect x="704" y="2020" width="196" height="7" fill="#96ff64"/>
<rect x="704" y="2027" width="196" height="6" fill="#7dff7d"/>
<rect x="704" y="2039" width="196" height="13" fill="#7dff7d"/>
<rect x="900" y="1894" width="195" height="7" fill="#ffcd00"/>
<rect x="900" y="1901" width="195" height="6" fill="#ffc300"/>
<rect x="900" y="1907" width="195" height="6" fill="#e1ff1e"/>
<rect x="900" y="1913" width="195" height="6" fill="#91ff64"/>
<rect x="900" y="1919" width="195" height="7" fill="#c8ff32"/>
<rect x="900" y="1926" width="195" height="6" fill="#afff4b"/>
<rect x="900" y="1932" width="195" height="6" fill="#9bff5f"/>
<rect x="900" y="1938" width="195" height="19" fill="#6eff8c"/>
<rect x="900" y="1957" width="195" height="7" fill="#55ffa5"/>
<rect x="900" y="1964" width="195" height="6" fill="#64ff96"/>
<rect x="900" y="1970" width="195" height="6" fill="#7dff7d"/>
<rect x="900" y="1976" width="195" height="19" fill="#73ff87"/>
<rect x="900" y="1995" width="195" height="7" fill="#87ff73"/>
<rect x="900" y="2002" width="195" height="6" fill="#96ff64"/>
<rect x="900" y="2008" width="195" height="6" fill="#a5ff55"/>
<rect x="900" y="2014" width="195" height="13" fill="#96ff64"/>
<rect x="900" y="2027" width="195" height="6" fill="#46ffb4"/>
<rect x="900" y="2033" width="195" height="6" fill="#64ff96"/>
<rect x="900" y="2039" width="195" height="13" fill="#73ff87"/>
<rect x="1095" y="1894" width="196" height="7" fill="#ffda00"/>
<rect x="1095" y="1901" width="196" height="6" fill="#ffc800"/>
<rect x="1095" y="1907" width="196" height="6" fill="#96ff64"/>
<rect x="1095" y="1913" width="196" height="6" fill="#f0ff0f"/>
<rect x="1095" y="1919" width="196" height="7" fill="#a0ff5a"/>
<rect x="1095" y="1926" width="196" height="6" fill="#c3ff37"/>
<rect x="1095" y="1932" width="196" height="6" fill="#96ff64"/>
<rect x="1095" y="1938" width="196" height="13" fill="#73ff87"/>
<rect x="1095" y="1951" width="196" height="6" fill="#2dffc8"/>
<rect x="1095" y="1957" width="196" height="13" fill="#3cffbe"/>
<rect x="1095" y="1970" width="196" height="6" fill="#64ff96"/>
<rect x="1095" y="1976" width="196" height="7" fill="#55ffa5"/>
<rect x="1095" y="1983" width="196" height="19" fill="#78ff82"/>
<rect x="1095" y="2002" width="196" height="25" fill="#96ff64"/>
<rect x="1095" y="2027" width="196" height="6" fill="#4bffaf"/>
<rect x="1095" y="2033" width="196" height="6" fill="#7dff7d"/>
<rect x="1095" y="2039" width="196" height="7" fill="#5fff9b"/>
<rect x="1095" y="2046" width="196" height="6" fill="#7dff7d"/>
<rect x="1291" y="1894" width="196" height="7" fill="#afff4b"/>
<rect x="1291" y="1901" width="196" height="6" fill="#ffdc00"/>
<rect x="1291" y="1907" width="196" height="6" fill="#f0ff0f"/>
<rect x="1291" y="1913" width="196" height="6" fill="#e1ff1e"/>
<rect x="1291" y="1919" width="196" height="7" fill="#96ff64"/>
<rect x="1291" y="1926" width="196" height="6" fill="#beff3c"/>
<rect x="1291" y="1932" width="196" height="6" fill="#9bff5f"/>
<rect x="1291" y="1938" width="196" height="7" fill="#37ffc3"/>
<rect x="1291" y="1945" width="196" height="6" fill="#73ff87"/>
<rect x="1291" y="1951" width="196" height="6" fill="#37ffc3"/>
<rect x="1291" y="1957" width="196" height="7" fill="#5affa0"/>
<rect x="1291" y="1964" width="196" height="19" fill="#50ffaa"/>
<rect x="1291" y="1983" width="196" height="6" fill="#64ff96"/>
<rect x="1291" y="1989" width="196" height="6" fill="#78ff82"/>
<rect x="1291" y="1995" width="196" height="7" fill="#82ff78"/>
<rect x="1291" y="2002" width="196" height="6" fill="#aaff50"/>
<rect x="1291" y="2008" width="196" height="12" fill="#91ff69"/>
<rect x="1291" y="2020" width="196" height="13" fill="#73ff87"/>
<rect x="1291" y="2033" width="196" height="6" fill="#96ff64"/>
<rect x="1291" y="2039" width="196" height="13" fill="#78ff82"/>
<rect x="1487" y="1894" width="195" height="7" fill="#ffe600"/>
<rect x="1487" y="1901" width="195" height="6" fill="#ffc800"/>
<rect x="1487" y="1907" width="195" height="6" fill="#ffe100"/>
<rect x="1487" y="1913" width="195" height="6" fill="#beff3c"/>
<rect x="1487" y="1919" width="195" height="7" fill="#a0ff5a"/>
<rect x="1487" y="1926" width="195" height="6" fill="#b4ff46"/>
<rect x="1487" y="1932" width="195" height="6" fill="#a5ff55"/>
<rect x="1487" y="1938" width="195" height="7" fill="#afff4b"/>
<rect x="1487" y="1945" width="195" height="6" fill="#82ff78"/>
<rect x="1487" y="1951" width="195" height="6" fill="#5fff9b"/>
<rect x="1487" y="1957" width="195" height="7" fill="#55ffa5"/>
<rect x="1487" y="1964" width="195" height="6" fill="#41ffb9"/>
<rect x="1487" y="1970" width="195" height="6" fill="#2dffcd"/>
<rect x="1487" y="1976" width="195" height="7" fill="#78ff82"/>
<rect x="1487" y="1983" width="195" height="25" fill="#87ff73"/>
<rect x="1487" y="2008" width="195" height="6" fill="#73ff87"/>
<rect x="1487" y="2014" width="195" height="13" fill="#87ff73"/>
<rect x="1487" y="2027" width="195" height="6" fill="#69ff91"/>
<rect x="1487" y="2033" width="195" height="6" fill="#7dff7d"/>
<rect x="1487" y="2039" width="195" height="7" fill="#00d7ff"/>
</g>
<path d="M117.5 2061 v-8.33 M117.5 1872 v8.33 M313.5 2061 v-8.33 M313.5 1872 v8.33 M509.5 2061 v-8.33 M509.5 1872 v8.33 M704.5 2061 v-8.33 M704.5 1872 v8.33 M900.5 2061 v-8.33 M900.5 1872 v8.33 M1096.5 2061 v-8.33 M1096.5 1872 v8.33 M1291.5 2061 v-8.33 M1291.5 1872 v8.33 M1487.5 2061 v-8.33 M1487.5 1872 v8.33 M1682.5 2061 v-8.33 M1682.5 1872 v8.33 M117 2061.5 h8.33 M1683 2061.5 h-8.33 M117 1998.5 h8.33 M1683 1998.5 h-8.33 M117 1935.5 h8.33 M1683 1935.5 h-8.33 M117 1872.5 h8.33 M1683 1872.5 h-8.33" stroke="#000" stroke-width="1" fill="none" shape-rendering="crispEdges"/>
<rect x="117" y="1872" width="1566" height="189" fill="none" stroke="#000" stroke-width="2" shape-rendering="crispEdges"/>
<text transform="translate(117.20,2083.70) scale(0.9998,1)" x="-50.33 -39.73 -29.09 -23.50 -13.03 -2.42 3.10 13.71 24.25 29.93 40.54" y="0" font-family='"Liberation Sans", sans-serif' font-size="17.44" fill="#000">11/12 00:00</text>
<text transform="translate(312.86,2083.70) scale(0.9948,1)" x="-50.56 -39.90 -29.23 -23.59 -13.07 -2.42 3.14 13.80 24.39 30.10 40.68" y="0" font-family='"Liberation Sans", sans-serif' font-size="17.44" fill="#000">11/12 00:01</text>
<text transform="translate(508.52,2083.70) scale(0.9956,1)" x="-50.52 -39.87 -29.21 -23.58 -13.06 -2.42 3.13 13.78 24.36 30.07 40.50" y="0" font-family='"Liberation Sans", sans-serif' font-size="17.44" fill="#000">11/12 00:02</text>
<text transform="translate(704.18,2083.70) scale(0.9951,1)" x="-50.55 -39.89 -29.22 -23.59 -13.07 -2.42 3.14 13.79 24.38 30.09 40.77" y="0" font-family='"Liberation Sans", sans-serif' font-size="17.44" fill="#000">11/12 00:03</text>
<text transform="translate(899.84,2083.70) scale(0.9998,1)" x="-50.33 -39.72 -29.09 -23.50 -13.03 -2.42 3.10 13.70 24.25 29.93 40.53" y="0" font-family='"Liberation Sans", sans-serif' font-size="17.44" fill="#000">11/12 00:04</text>
<text transform="translate(1095.50,2083.70) scale(0.9931,1)" x="-50.64 -39.96 -29.27 -23.63 -13.08 -2.42 3.15 13.83 24.43 30.16 40.78" y="0" font-family='"Liberation Sans", sans-serif' font-size="17.44" fill="#000">11/12 00:05</text>
<text transform="translate(1291.16,2083.70) scale(1.0038,1)" x="-50.15 -39.59 -28.99 -23.43 -12.99 -2.42 3.07 13.63 24.15 29.79 40.35" y="0" font-family='"Liberation Sans", sans-serif' font-size="17.44" fill="#000">11/12 00:06</text>
<text transform="translate(1486.82,2083.70) scale(0.9972,1)" x="-50.45 -39.81 -29.16 -23.55 -13.05 -2.42 3.12 13.75 24.32 30.02 40.62" y="0" font-family='"Liberation Sans", sans-serif' font-size="17.44" fill="#000">11/12 00:07</text>
<text transform="translate(1682.48,2083.70) scale(1.0010,1)" x="-50.27 -39.68 -29.06 -23.48 -13.02 -2.42 3.09 13.68 24.22 29.89 40.48" y="0" font-family='"Liberation Sans", sans-serif' font-size="17.44" fill="#000">11/12 00:08</text>
<text transform="translate(108.30,2065.60) scale(1.0073,1)" x="-10.12" y="0" font-family='"Liberation Sans", sans-serif' font-size="17.44" fill="#000">0</text>
<text transform="translate(108.30,2002.77) scale(1.0246,1)" x="-20.38 -10.03" y="0" font-family='"Liberation Sans", sans-serif' font-size="17.44" fill="#000">60</text>
<text transform="translate(108.30,1939.93) scale(0.9809,1)" x="-31.97 -21.29 -10.26" y="0" font-family='"Liberation Sans", sans-serif' font-size="17.44" fill="#000">120</text>
<text transform="translate(108.30,1877.10) scale(0.9969,1)" x="-31.54 -20.81 -10.17" y="0" font-family='"Liberation Sans", sans-serif' font-size="17.44" fill="#000">180</text>
<text transform="translate(900.50,1861.60) scale(0.9806,1)" x="-341.40 -325.38 -310.36 -295.08 -287.21 -271.20 -262.58 -247.95 -232.80 -223.18 -202.16 -186.74 -180.47 -174.26 -158.05 -151.70 -137.71 -123.75 -114.53 -105.78 -91.18 -76.88 -64.49 -58.16 -42.74 -35.67 -27.63 -14.20 0.34 7.24 24.06 38.70 53.63 59.98 74.28 81.54 99.93 105.99 119.18 128.39 137.37 144.05 158.67 174.09 182.68 188.94 203.54 218.05 225.02 234.80 249.74 264.32 271.99 286.78 301.58 315.34 332.65" y="0" font-family='"Liberation Sans", sans-serif' font-size="24.71" fill="#000">Suprathermal Electrons Pitch Angle Distribution (96.71eV)</text>
<text transform="translate(61.20,1966.90) rotate(-90) scale(1.0006,1)" x="-70.78 -60.36 -55.32 -49.57 -39.99 -29.65 -24.95 -13.91 -3.48 7.13 11.69 21.86 26.83 33.76 44.31 54.58 65.61" y="0" font-family='"Liberation Sans", sans-serif' font-size="17.44" fill="#000">pitch angle (deg)</text>
<defs><linearGradient id="jet" x1="0" y1="0" x2="0" y2="1"><stop offset="0.000" stop-color="#800000"/><stop offset="0.025" stop-color="#9c0000"/><stop offset="0.050" stop-color="#b90000"/><stop offset="0.075" stop-color="#d60000"/><stop offset="0.100" stop-color="#f30900"/><stop offset="0.125" stop-color="#ff2100"/><stop offset="0.150" stop-color="#ff3900"/><stop offset="0.175" stop-color="#ff5000"/><stop offset="0.200" stop-color="#ff6800"/><stop offset="0.225" stop-color="#ff8000"/><stop offset="0.250" stop-color="#ff9700"/><stop offset="0.275" stop-color="#ffaf00"/><stop offset="0.300" stop-color="#ffc600"/><stop offset="0.325" stop-color="#ffde00"/><stop offset="0.350" stop-color="#f7f600"/><stop offset="0.375" stop-color="#e2ff15"/><stop offset="0.400" stop-color="#ceff29"/><stop offset="0.425" stop-color="#b9ff3e"/><stop offset="0.450" stop-color="#a5ff52"/><stop offset="0.475" stop-color="#90ff67"/><stop offset="0.500" stop-color="#7bff7b"/><stop offset="0.525" stop-color="#67ff90"/><stop offset="0.550" stop-color="#52ffa5"/><stop offset="0.575" stop-color="#3effb9"/><stop offset="0.600" stop-color="#29ffce"/><stop offset="0.625" stop-color="#15ffe2"/><stop offset="0.650" stop-color="#00e5f7"/><stop offset="0.675" stop-color="#00ccff"/><stop offset="0.700" stop-color="#00b3ff"/><stop offset="0.725" stop-color="#0099ff"/><stop offset="0.750" stop-color="#0080ff"/><stop offset="0.775" stop-color="#0066ff"/><stop offset="0.800" stop-color="#004cff"/><stop offset="0.825" stop-color="#0033ff"/><stop offset="0.850" stop-color="#001aff"/><stop offset="0.875" stop-color="#0000ff"/><stop offset="0.900" stop-color="#0000f3"/><stop offset="0.925" stop-color="#0000d6"/><stop offset="0.950" stop-color="#0000b9"/><stop offset="0.975" stop-color="#00009c"/><stop offset="1.000" stop-color="#000080"/></linearGradient></defs>
<rect x="1692" y="1872" width="9" height="189" fill="url(#jet)"/>
<path d="M1701 1872.5 h-8.33 M1701 1882.5 h-4.17 M1701 1891.5 h-4.17 M1701 1900.5 h-4.17 M1701 1910.5 h-8.33 M1701 1919.5 h-4.17 M1701 1929.5 h-4.17 M1701 1938.5 h-4.17 M1701 1948.5 h-8.33 M1701 1957.5 h-4.17 M1701 1966.5 h-4.17 M1701 1976.5 h-4.17 M1701 1985.5 h-8.33 M1701 1995.5 h-4.17 M1701 2004.5 h-4.17 M1701 2014.5 h-4.17 M1701 2023.5 h-8.33 M1701 2032.5 h-4.17 M1701 2042.5 h-4.17 M1701 2051.5 h-4.17 M1701 2061.5 h-8.33" stroke="#000" stroke-width="1" fill="none" shape-rendering="crispEdges"/>
<rect x="1692" y="1872" width="9" height="189" fill="none" stroke="#000" stroke-width="2" shape-rendering="crispEdges"/>
<text transform="translate(1709.50,1877.30) scale(0.9859,1)" x="0.44 11.28" y="0" font-family='"Liberation Sans", sans-serif' font-size="17.44" fill="#000">10</text>
<text transform="translate(1732.10,1870.30) scale(0.9444,1)" x="0.05 4.58 12.61" y="0" font-family='"Liberation Sans", sans-serif' font-size="13.08" fill="#000">-26</text>
<text transform="translate(1709.50,1915.10) scale(0.9859,1)" x="0.44 11.28" y="0" font-family='"Liberation Sans", sans-serif' font-size="17.44" fill="#000">10</text>
<text transform="translate(1732.10,1908.10) scale(0.9232,1)" x="0.10 4.77 12.96" y="0" font-family='"Liberation Sans", sans-serif' font-size="13.08" fill="#000">-27</text>
<text transform="translate(1709.50,1952.90) scale(0.9859,1)" x="0.44 11.28" y="0" font-family='"Liberation Sans", sans-serif' font-size="17.44" fill="#000">10</text>
<text transform="translate(1732.10,1945.90) scale(0.9355,1)" x="0.07 4.66 12.76" y="0" font-family='"Liberation Sans", sans-serif' font-size="13.08" fill="#000">-28</text>
<text transform="translate(1709.50,1990.70) scale(0.9859,1)" x="0.44 11.28" y="0" font-family='"Liberation Sans", sans-serif' font-size="17.44" fill="#000">10</text>
<text transform="translate(1732.10,1983.70) scale(0.9436,1)" x="0.05 4.59 12.58" y="0" font-family='"Liberation Sans", sans-serif' font-size="13.08" fill="#000">-29</text>
<text transform="translate(1709.50,2028.50) scale(0.9859,1)" x="0.44 11.28" y="0" font-family='"Liberation Sans", sans-serif' font-size="17.44" fill="#000">10</text>
<text transform="translate(1732.10,2021.50) scale(0.9297,1)" x="0.09 4.90 12.86" y="0" font-family='"Liberation Sans", sans-serif' font-size="13.08" fill="#000">-30</text>
<text transform="translate(1709.50,2066.30) scale(0.9859,1)" x="0.44 11.28" y="0" font-family='"Liberation Sans", sans-serif' font-size="17.44" fill="#000">10</text>
<text transform="translate(1732.10,2059.30) scale(0.9135,1)" x="0.13 5.05 13.09" y="0" font-family='"Liberation Sans", sans-serif' font-size="13.08" fill="#000">-31</text>
<clipPath id="p4"><rect x="117" y="2156" width="1566" height="189"/></clipPath>
<g clip-path="url(#p4)">
<polyline points="117.70,2343.50 313.36,2343.50 509.02,2343.50 704.68,2343.50 900.34,2343.50 1096.00,2343.50 1291.66,2343.50 1487.32,2342.80 1682.98,2343.50" fill="none" stroke="#ff0000" stroke-width="2.08" stroke-linejoin="round" stroke-linecap="butt"/>
<polyline points="117.70,2175.00 313.36,2173.70 509.02,2172.90 704.68,2171.20 900.34,2169.70 1096.00,2171.20 1291.66,2172.90 1487.32,2169.00 1682.98,2172.90" fill="none" stroke="#008000" stroke-width="2.08" stroke-linejoin="round" stroke-linecap="butt"/>
<polyline points="117.70,2163.10 313.36,2162.40 509.02,2162.20 704.68,2161.60 900.34,2160.90 1096.00,2162.60 1291.66,2165.60 1487.32,2165.40 1682.98,2166.00" fill="none" stroke="#0000ff" stroke-width="2.08" stroke-linejoin="round" stroke-linecap="butt"/>
</g>
<path d="M117.5 2345 v-8.33 M117.5 2156 v8.33 M313.5 2345 v-8.33 M313.5 2156 v8.33 M509.5 2345 v-8.33 M509.5 2156 v8.33 M704.5 2345 v-8.33 M704.5 2156 v8.33 M900.5 2345 v-8.33 M900.5 2156 v8.33 M1096.5 2345 v-8.33 M1096.5 2156 v8.33 M1291.5 2345 v-8.33 M1291.5 2156 v8.33 M1487.5 2345 v-8.33 M1487.5 2156 v8.33 M1682.5 2345 v-8.33 M1682.5 2156 v8.33 M117 2156.5 h8.33 M1683 2156.5 h-8.33 M117 2183.5 h8.33 M1683 2183.5 h-8.33 M117 2210.5 h8.33 M1683 2210.5 h-8.33 M117 2237.5 h8.33 M1683 2237.5 h-8.33 M117 2264.5 h8.33 M1683 2264.5 h-8.33 M117 2291.5 h8.33 M1683 2291.5 h-8.33 M117 2318.5 h8.33 M1683 2318.5 h-8.33 M117 2345.5 h8.33 M1683 2345.5 h-8.33" stroke="#000" stroke-width="1" fill="none" shape-rendering="crispEdges"/>
<rect x="117" y="2156" width="1566" height="189" fill="none" stroke="#000" stroke-width="2" shape-rendering="crispEdges"/>
<text transform="translate(117.20,2367.70) scale(0.9998,1)" x="-50.33 -39.73 -29.09 -23.50 -13.03 -2.42 3.10 13.71 24.25 29.93 40.54" y="0" font-family='"Liberation Sans", sans-serif' font-size="17.44" fill="#000">11/12 00:00</text>
<text transform="translate(312.86,2367.70) scale(0.9948,1)" x="-50.56 -39.90 -29.23 -23.59 -13.07 -2.42 3.14 13.80 24.39 30.10 40.68" y="0" font-family='"Liberation Sans", sans-serif' font-size="17.44" fill="#000">11/12 00:01</text>
<text transform="translate(508.52,2367.70) scale(0.9956,1)" x="-50.52 -39.87 -29.21 -23.58 -13.06 -2.42 3.13 13.78 24.36 30.07 40.50" y="0" font-family='"Liberation Sans", sans-serif' font-size="17.44" fill="#000">11/12 00:02</text>
<text transform="translate(704.18,2367.70) scale(0.9951,1)" x="-50.55 -39.89 -29.22 -23.59 -13.07 -2.42 3.14 13.79 24.38 30.09 40.77" y="0" font-family='"Liberation Sans", sans-serif' font-size="17.44" fill="#000">11/12 00:03</text>
<text transform="translate(899.84,2367.70) scale(0.9998,1)" x="-50.33 -39.72 -29.09 -23.50 -13.03 -2.42 3.10 13.70 24.25 29.93 40.53" y="0" font-family='"Liberation Sans", sans-serif' font-size="17.44" fill="#000">11/12 00:04</text>
<text transform="translate(1095.50,2367.70) scale(0.9931,1)" x="-50.64 -39.96 -29.27 -23.63 -13.08 -2.42 3.15 13.83 24.43 30.16 40.78" y="0" font-family='"Liberation Sans", sans-serif' font-size="17.44" fill="#000">11/12 00:05</text>
<text transform="translate(1291.16,2367.70) scale(1.0038,1)" x="-50.15 -39.59 -28.99 -23.43 -12.99 -2.42 3.07 13.63 24.15 29.79 40.35" y="0" font-family='"Liberation Sans", sans-serif' font-size="17.44" fill="#000">11/12 00:06</text>
<text transform="translate(1486.82,2367.70) scale(0.9972,1)" x="-50.45 -39.81 -29.16 -23.55 -13.05 -2.42 3.12 13.75 24.32 30.02 40.62" y="0" font-family='"Liberation Sans", sans-serif' font-size="17.44" fill="#000">11/12 00:07</text>
<text transform="translate(1682.48,2367.70) scale(1.0010,1)" x="-50.27 -39.68 -29.06 -23.48 -13.02 -2.42 3.09 13.68 24.22 29.89 40.48" y="0" font-family='"Liberation Sans", sans-serif' font-size="17.44" fill="#000">11/12 00:08</text>
<text transform="translate(108.30,2161.10) scale(0.9932,1)" x="-31.63 -20.87 -10.19" y="0" font-family='"Liberation Sans", sans-serif' font-size="17.44" fill="#000">100</text>
<text transform="translate(108.30,2188.03) scale(1.0073,1)" x="-10.12" y="0" font-family='"Liberation Sans", sans-serif' font-size="17.44" fill="#000">0</text>
<text transform="translate(108.30,2214.96) scale(1.0550,1)" x="-41.87 -30.08 -19.93 -9.88" y="0" font-family='"Liberation Sans", sans-serif' font-size="17.44" fill="#000">−100</text>
<text transform="translate(108.30,2241.89) scale(1.0559,1)" x="-41.84 -30.17 -19.92 -9.88" y="0" font-family='"Liberation Sans", sans-serif' font-size="17.44" fill="#000">−200</text>
<text transform="translate(108.30,2268.81) scale(1.0542,1)" x="-41.90 -29.98 -19.94 -9.88" y="0" font-family='"Liberation Sans", sans-serif' font-size="17.44" fill="#000">−300</text>
<text transform="translate(108.30,2295.74) scale(1.0632,1)" x="-41.58 -29.79 -19.81 -9.84" y="0" font-family='"Liberation Sans", sans-serif' font-size="17.44" fill="#000">−400</text>
<text transform="translate(108.30,2322.67) scale(1.0501,1)" x="-42.04 -30.16 -20.00 -9.90" y="0" font-family='"Liberation Sans", sans-serif' font-size="17.44" fill="#000">−500</text>
<text transform="translate(108.30,2349.60) scale(1.0730,1)" x="-41.25 -29.56 -19.68 -9.80" y="0" font-family='"Liberation Sans", sans-serif' font-size="17.44" fill="#000">−600</text>
<text transform="translate(900.50,2145.60) scale(0.9359,1)" x="-200.70 -184.19 -169.18 -163.30 -146.61 -137.50 -129.74 -105.30 -98.23 -82.91 -67.65 -60.19 -42.86 -27.85 -21.08 -6.45 7.41 14.85 24.20 38.09 45.45 54.83 73.60 88.91 105.41 112.20 128.24 136.62 153.59 176.45 192.09" y="0" font-family='"Liberation Sans", sans-serif' font-size="24.71" fill="#000">Solar Wind Velocity (GSE Frame)</text>
<text transform="translate(47.90,2252.50) rotate(-90) scale(0.9800,1)" x="-44.34 -32.52 -23.20 -9.96 -2.59 7.61 23.56 29.03 38.56" y="0" font-family='"Liberation Sans", sans-serif' font-size="17.44" fill="#000">Vsw(km/s)</text>
<rect x="1605" y="2163" width="71" height="72" fill="#fff" stroke="#000" stroke-width="2" shape-rendering="crispEdges"/>
<line x1="1614.00" y1="2175.90" x2="1635.90" y2="2175.90" stroke="#ff0000" stroke-width="2.08"/>
<text transform="translate(1651.60,2180.70) scale(0.9619,1)" x="-0.15 10.83" y="0" font-family='"Liberation Sans", sans-serif' font-size="15.99" fill="#000">Vx</text>
<line x1="1614.00" y1="2197.90" x2="1635.90" y2="2197.90" stroke="#008000" stroke-width="2.08"/>
<text transform="translate(1651.60,2202.70) scale(0.9488,1)" x="-0.08 11.06" y="0" font-family='"Liberation Sans", sans-serif' font-size="15.99" fill="#000">Vy</text>
<line x1="1614.00" y1="2221.00" x2="1635.90" y2="2221.00" stroke="#0000ff" stroke-width="2.08"/>
<text transform="translate(1651.60,2225.80) scale(0.9455,1)" x="-0.06 10.68" y="0" font-family='"Liberation Sans", sans-serif' font-size="15.99" fill="#000">Vz</text>
<clipPath id="p5"><rect x="117" y="2439" width="1566" height="189"/></clipPath>
<g clip-path="url(#p5)">
<polyline points="117.70,2598.90 313.36,2598.20 509.02,2597.80 704.68,2596.70 900.34,2595.20 1096.00,2590.70 1291.66,2587.00 1487.32,2601.10 1682.98,2601.70" fill="none" stroke="#0000ff" stroke-width="2.08" stroke-linejoin="round" stroke-linecap="butt"/>
</g>
<path d="M117.5 2628 v-8.33 M117.5 2439 v8.33 M313.5 2628 v-8.33 M313.5 2439 v8.33 M509.5 2628 v-8.33 M509.5 2439 v8.33 M704.5 2628 v-8.33 M704.5 2439 v8.33 M900.5 2628 v-8.33 M900.5 2439 v8.33 M1096.5 2628 v-8.33 M1096.5 2439 v8.33 M1291.5 2628 v-8.33 M1291.5 2439 v8.33 M1487.5 2628 v-8.33 M1487.5 2439 v8.33 M1682.5 2628 v-8.33 M1682.5 2439 v8.33 M117 2628.5 h8.33 M1683 2628.5 h-8.33 M117 2590.5 h8.33 M1683 2590.5 h-8.33 M117 2552.5 h8.33 M1683 2552.5 h-8.33 M117 2515.5 h8.33 M1683 2515.5 h-8.33 M117 2477.5 h8.33 M1683 2477.5 h-8.33 M117 2439.5 h8.33 M1683 2439.5 h-8.33" stroke="#000" stroke-width="1" fill="none" shape-rendering="crispEdges"/>
<rect x="117" y="2439" width="1566" height="189" fill="none" stroke="#000" stroke-width="2" shape-rendering="crispEdges"/>
<text transform="translate(117.20,2650.70) scale(0.9998,1)" x="-50.33 -39.73 -29.09 -23.50 -13.03 -2.42 3.10 13.71 24.25 29.93 40.54" y="0" font-family='"Liberation Sans", sans-serif' font-size="17.44" fill="#000">11/12 00:00</text>
<text transform="translate(312.86,2650.70) scale(0.9948,1)" x="-50.56 -39.90 -29.23 -23.59 -13.07 -2.42 3.14 13.80 24.39 30.10 40.68" y="0" font-family='"Liberation Sans", sans-serif' font-size="17.44" fill="#000">11/12 00:01</text>
<text transform="translate(508.52,2650.70) scale(0.9956,1)" x="-50.52 -39.87 -29.21 -23.58 -13.06 -2.42 3.13 13.78 24.36 30.07 40.50" y="0" font-family='"Liberation Sans", sans-serif' font-size="17.44" fill="#000">11/12 00:02</text>
<text transform="translate(704.18,2650.70) scale(0.9951,1)" x="-50.55 -39.89 -29.22 -23.59 -13.07 -2.42 3.14 13.79 24.38 30.09 40.77" y="0" font-family='"Liberation Sans", sans-serif' font-size="17.44" fill="#000">11/12 00:03</text>
<text transform="translate(899.84,2650.70) scale(0.9998,1)" x="-50.33 -39.72 -29.09 -23.50 -13.03 -2.42 3.10 13.70 24.25 29.93 40.53" y="0" font-family='"Liberation Sans", sans-serif' font-size="17.44" fill="#000">11/12 00:04</text>
<text transform="translate(1095.50,2650.70) scale(0.9931,1)" x="-50.64 -39.96 -29.27 -23.63 -13.08 -2.42 3.15 13.83 24.43 30.16 40.78" y="0" font-family='"Liberation Sans", sans-serif' font-size="17.44" fill="#000">11/12 00:05</text>
<text transform="translate(1291.16,2650.70) scale(1.0038,1)" x="-50.15 -39.59 -28.99 -23.43 -12.99 -2.42 3.07 13.63 24.15 29.79 40.35" y="0" font-family='"Liberation Sans", sans-serif' font-size="17.44" fill="#000">11/12 00:06</text>
<text transform="translate(1486.82,2650.70) scale(0.9972,1)" x="-50.45 -39.81 -29.16 -23.55 -13.05 -2.42 3.12 13.75 24.32 30.02 40.62" y="0" font-family='"Liberation Sans", sans-serif' font-size="17.44" fill="#000">11/12 00:07</text>
<text transform="translate(1682.48,2650.70) scale(1.0010,1)" x="-50.27 -39.68 -29.06 -23.48 -13.02 -2.42 3.09 13.68 24.22 29.89 40.48" y="0" font-family='"Liberation Sans", sans-serif' font-size="17.44" fill="#000">11/12 00:08</text>
<text transform="translate(108.30,2632.60) scale(1.0073,1)" x="-10.12" y="0" font-family='"Liberation Sans", sans-serif' font-size="17.44" fill="#000">0</text>
<text transform="translate(108.30,2594.90) scale(0.9621,1)" x="-10.45" y="0" font-family='"Liberation Sans", sans-serif' font-size="17.44" fill="#000">1</text>
<text transform="translate(108.30,2557.20) scale(0.9709,1)" x="-10.54" y="0" font-family='"Liberation Sans", sans-serif' font-size="17.44" fill="#000">2</text>
<text transform="translate(108.30,2519.50) scale(0.9674,1)" x="-10.31" y="0" font-family='"Liberation Sans", sans-serif' font-size="17.44" fill="#000">3</text>
<text transform="translate(108.30,2481.80) scale(1.0074,1)" x="-10.12" y="0" font-family='"Liberation Sans", sans-serif' font-size="17.44" fill="#000">4</text>
<text transform="translate(108.30,2444.10) scale(0.9507,1)" x="-10.50" y="0" font-family='"Liberation Sans", sans-serif' font-size="17.44" fill="#000">5</text>
<text transform="translate(900.50,2428.60) scale(0.9220,1)" x="-77.68 -61.67 -55.64 -39.78 -25.41 -3.25 12.67 20.31 37.93 53.77 61.98" y="0" font-family='"Liberation Sans", sans-serif' font-size="24.71" fill="#000">Plasma Beta</text>
<text transform="translate(79.80,2568.20) rotate(-90) scale(1.1114,1)" x="0.55" y="0" font-family='"Liberation Serif", serif' font-size="16.67" font-style="italic" fill="#2a2a2a">β</text>
<text transform="translate(82.40,2559.00) rotate(-90) scale(0.9945,1)" x="0.28" y="0" font-family='"Liberation Serif", serif' font-size="11.67" font-style="italic" fill="#2a2a2a">p</text>
<text transform="translate(79.80,2551.90) rotate(-90) scale(0.9697,1)" x="0.31 5.24 16.63 27.38 38.11" y="0" font-family='"Liberation Sans", sans-serif' font-size="17.44" fill="#000"> and </text>
<text transform="translate(79.80,2510.30) rotate(-90) scale(1.1114,1)" x="0.55" y="0" font-family='"Liberation Serif", serif' font-size="16.67" font-style="italic" fill="#2a2a2a">β</text>
<rect x="1608" y="2446" width="68" height="31" fill="#fff" stroke="#000" stroke-width="2" shape-rendering="crispEdges"/>
<line x1="1617.00" y1="2460.00" x2="1640.10" y2="2460.00" stroke="#0000ff" stroke-width="2.08"/>
<text transform="translate(1656.00,2464.50) scale(1.1114,1)" x="0.48" y="0" font-family='"Liberation Serif", serif' font-size="14.58" font-style="italic" fill="#2a2a2a">β</text>
<text transform="translate(1663.60,2466.80) scale(0.9945,1)" x="0.25" y="0" font-family='"Liberation Serif", serif' font-size="10.20" font-style="italic" fill="#2a2a2a">p</text>
<clipPath id="p6"><rect x="117" y="2723" width="1566" height="189"/></clipPath>
<g clip-path="url(#p6)">
<polyline points="117.70,2875.30 313.36,2874.90 509.02,2874.50 704.68,2874.00 900.34,2873.50 1096.00,2870.20 1291.66,2867.20 1487.32,2872.30 1682.98,2870.80" fill="none" stroke="#0000ff" stroke-width="2.08" stroke-linejoin="round" stroke-linecap="butt"/>
</g>
<path d="M117.5 2912 v-8.33 M117.5 2723 v8.33 M313.5 2912 v-8.33 M313.5 2723 v8.33 M509.5 2912 v-8.33 M509.5 2723 v8.33 M704.5 2912 v-8.33 M704.5 2723 v8.33 M900.5 2912 v-8.33 M900.5 2723 v8.33 M1096.5 2912 v-8.33 M1096.5 2723 v8.33 M1291.5 2912 v-8.33 M1291.5 2723 v8.33 M1487.5 2912 v-8.33 M1487.5 2723 v8.33 M1682.5 2912 v-8.33 M1682.5 2723 v8.33 M117 2912.5 h8.33 M1683 2912.5 h-8.33 M117 2880.5 h8.33 M1683 2880.5 h-8.33 M117 2849.5 h8.33 M1683 2849.5 h-8.33 M117 2817.5 h8.33 M1683 2817.5 h-8.33 M117 2786.5 h8.33 M1683 2786.5 h-8.33 M117 2755.5 h8.33 M1683 2755.5 h-8.33 M117 2723.5 h8.33 M1683 2723.5 h-8.33" stroke="#000" stroke-width="1" fill="none" shape-rendering="crispEdges"/>
<rect x="117" y="2723" width="1566" height="189" fill="none" stroke="#000" stroke-width="2" shape-rendering="crispEdges"/>
<text transform="translate(117.20,2934.70) scale(0.9998,1)" x="-50.33 -39.73 -29.09 -23.50 -13.03 -2.42 3.10 13.71 24.25 29.93 40.54" y="0" font-family='"Liberation Sans", sans-serif' font-size="17.44" fill="#000">11/12 00:00</text>
<text transform="translate(312.86,2934.70) scale(0.9948,1)" x="-50.56 -39.90 -29.23 -23.59 -13.07 -2.42 3.14 13.80 24.39 30.10 40.68" y="0" font-family='"Liberation Sans", sans-serif' font-size="17.44" fill="#000">11/12 00:01</text>
<text transform="translate(508.52,2934.70) scale(0.9956,1)" x="-50.52 -39.87 -29.21 -23.58 -13.06 -2.42 3.13 13.78 24.36 30.07 40.50" y="0" font-family='"Liberation Sans", sans-serif' font-size="17.44" fill="#000">11/12 00:02</text>
<text transform="translate(704.18,2934.70) scale(0.9951,1)" x="-50.55 -39.89 -29.22 -23.59 -13.07 -2.42 3.14 13.79 24.38 30.09 40.77" y="0" font-family='"Liberation Sans", sans-serif' font-size="17.44" fill="#000">11/12 00:03</text>
<text transform="translate(899.84,2934.70) scale(0.9998,1)" x="-50.33 -39.72 -29.09 -23.50 -13.03 -2.42 3.10 13.70 24.25 29.93 40.53" y="0" font-family='"Liberation Sans", sans-serif' font-size="17.44" fill="#000">11/12 00:04</text>
<text transform="translate(1095.50,2934.70) scale(0.9931,1)" x="-50.64 -39.96 -29.27 -23.63 -13.08 -2.42 3.15 13.83 24.43 30.16 40.78" y="0" font-family='"Liberation Sans", sans-serif' font-size="17.44" fill="#000">11/12 00:05</text>
<text transform="translate(1291.16,2934.70) scale(1.0038,1)" x="-50.15 -39.59 -28.99 -23.43 -12.99 -2.42 3.07 13.63 24.15 29.79 40.35" y="0" font-family='"Liberation Sans", sans-serif' font-size="17.44" fill="#000">11/12 00:06</text>
<text transform="translate(1486.82,2934.70) scale(0.9972,1)" x="-50.45 -39.81 -29.16 -23.55 -13.05 -2.42 3.12 13.75 24.32 30.02 40.62" y="0" font-family='"Liberation Sans", sans-serif' font-size="17.44" fill="#000">11/12 00:07</text>
<text transform="translate(1682.48,2934.70) scale(1.0010,1)" x="-50.27 -39.68 -29.06 -23.48 -13.02 -2.42 3.09 13.68 24.22 29.89 40.48" y="0" font-family='"Liberation Sans", sans-serif' font-size="17.44" fill="#000">11/12 00:08</text>
<text transform="translate(108.30,2916.60) scale(1.0073,1)" x="-10.12" y="0" font-family='"Liberation Sans", sans-serif' font-size="17.44" fill="#000">0</text>
<text transform="translate(108.30,2885.18) scale(0.9507,1)" x="-10.50" y="0" font-family='"Liberation Sans", sans-serif' font-size="17.44" fill="#000">5</text>
<text transform="translate(108.30,2853.77) scale(0.9859,1)" x="-21.07 -10.23" y="0" font-family='"Liberation Sans", sans-serif' font-size="17.44" fill="#000">10</text>
<text transform="translate(108.30,2822.35) scale(0.9561,1)" x="-21.57 -10.47" y="0" font-family='"Liberation Sans", sans-serif' font-size="17.44" fill="#000">15</text>
<text transform="translate(108.30,2790.93) scale(0.9896,1)" x="-21.15 -10.21" y="0" font-family='"Liberation Sans", sans-serif' font-size="17.44" fill="#000">20</text>
<text transform="translate(108.30,2759.52) scale(0.9606,1)" x="-21.64 -10.44" y="0" font-family='"Liberation Sans", sans-serif' font-size="17.44" fill="#000">25</text>
<text transform="translate(108.30,2728.10) scale(0.9874,1)" x="-20.94 -10.22" y="0" font-family='"Liberation Sans", sans-serif' font-size="17.44" fill="#000">30</text>
<text transform="translate(900.50,2712.60) scale(1.0034,1)" x="-134.80 -119.04 -110.53 -95.70 -87.61 -73.34 -59.08 -52.40 -34.62 -19.56 2.30 16.49 31.34 39.93 46.88 64.78 79.04 93.04 105.44 112.33 120.88" y="0" font-family='"Liberation Sans", sans-serif' font-size="24.71" fill="#000">Proton Number Density</text>
<text transform="translate(74.00,2819.70) rotate(-90) scale(1.0000,1)" x="-37.05 -23.97 -14.03 -5.29 6.92 12.17 21.34 31.27" y="0" font-family='"Liberation Sans", sans-serif' font-size="17.44" fill="#000">Np(#/cc)</text>
<clipPath id="p7"><rect x="117" y="3006" width="1566" height="189"/></clipPath>
<g clip-path="url(#p7)">
<polyline points="117.70,3108.00 313.36,3106.10 509.02,3104.20 704.68,3102.20 900.34,3100.40 1096.00,3098.40 1291.66,3096.60 1487.32,3116.60 1682.98,3118.70" fill="none" stroke="#0000ff" stroke-width="2.08" stroke-linejoin="round" stroke-linecap="butt"/>
</g>
<path d="M117.5 3195 v-8.33 M117.5 3006 v8.33 M313.5 3195 v-8.33 M313.5 3006 v8.33 M509.5 3195 v-8.33 M509.5 3006 v8.33 M704.5 3195 v-8.33 M704.5 3006 v8.33 M900.5 3195 v-8.33 M900.5 3006 v8.33 M1096.5 3195 v-8.33 M1096.5 3006 v8.33 M1291.5 3195 v-8.33 M1291.5 3006 v8.33 M1487.5 3195 v-8.33 M1487.5 3006 v8.33 M1682.5 3195 v-8.33 M1682.5 3006 v8.33 M117 3195.5 h8.33 M1683 3195.5 h-8.33 M117 3157.5 h8.33 M1683 3157.5 h-8.33 M117 3119.5 h8.33 M1683 3119.5 h-8.33 M117 3082.5 h8.33 M1683 3082.5 h-8.33 M117 3044.5 h8.33 M1683 3044.5 h-8.33 M117 3006.5 h8.33 M1683 3006.5 h-8.33" stroke="#000" stroke-width="1" fill="none" shape-rendering="crispEdges"/>
<rect x="117" y="3006" width="1566" height="189" fill="none" stroke="#000" stroke-width="2" shape-rendering="crispEdges"/>
<text transform="translate(117.20,3217.70) scale(0.9998,1)" x="-50.33 -39.73 -29.09 -23.50 -13.03 -2.42 3.10 13.71 24.25 29.93 40.54" y="0" font-family='"Liberation Sans", sans-serif' font-size="17.44" fill="#000">11/12 00:00</text>
<text transform="translate(312.86,3217.70) scale(0.9948,1)" x="-50.56 -39.90 -29.23 -23.59 -13.07 -2.42 3.14 13.80 24.39 30.10 40.68" y="0" font-family='"Liberation Sans", sans-serif' font-size="17.44" fill="#000">11/12 00:01</text>
<text transform="translate(508.52,3217.70) scale(0.9956,1)" x="-50.52 -39.87 -29.21 -23.58 -13.06 -2.42 3.13 13.78 24.36 30.07 40.50" y="0" font-family='"Liberation Sans", sans-serif' font-size="17.44" fill="#000">11/12 00:02</text>
<text transform="translate(704.18,3217.70) scale(0.9951,1)" x="-50.55 -39.89 -29.22 -23.59 -13.07 -2.42 3.14 13.79 24.38 30.09 40.77" y="0" font-family='"Liberation Sans", sans-serif' font-size="17.44" fill="#000">11/12 00:03</text>
<text transform="translate(899.84,3217.70) scale(0.9998,1)" x="-50.33 -39.72 -29.09 -23.50 -13.03 -2.42 3.10 13.70 24.25 29.93 40.53" y="0" font-family='"Liberation Sans", sans-serif' font-size="17.44" fill="#000">11/12 00:04</text>
<text transform="translate(1095.50,3217.70) scale(0.9931,1)" x="-50.64 -39.96 -29.27 -23.63 -13.08 -2.42 3.15 13.83 24.43 30.16 40.78" y="0" font-family='"Liberation Sans", sans-serif' font-size="17.44" fill="#000">11/12 00:05</text>
<text transform="translate(1291.16,3217.70) scale(1.0038,1)" x="-50.15 -39.59 -28.99 -23.43 -12.99 -2.42 3.07 13.63 24.15 29.79 40.35" y="0" font-family='"Liberation Sans", sans-serif' font-size="17.44" fill="#000">11/12 00:06</text>
<text transform="translate(1486.82,3217.70) scale(0.9972,1)" x="-50.45 -39.81 -29.16 -23.55 -13.05 -2.42 3.12 13.75 24.32 30.02 40.62" y="0" font-family='"Liberation Sans", sans-serif' font-size="17.44" fill="#000">11/12 00:07</text>
<text transform="translate(1682.48,3217.70) scale(1.0010,1)" x="-50.27 -39.68 -29.06 -23.48 -13.02 -2.42 3.09 13.68 24.22 29.89 40.48" y="0" font-family='"Liberation Sans", sans-serif' font-size="17.44" fill="#000">11/12 00:08</text>
<text transform="translate(108.30,3199.60) scale(1.0097,1)" x="-25.85 -15.56 -10.11" y="0" font-family='"Liberation Sans", sans-serif' font-size="17.44" fill="#000">0.0</text>
<text transform="translate(108.30,3161.90) scale(0.9904,1)" x="-26.26 -15.81 -10.29" y="0" font-family='"Liberation Sans", sans-serif' font-size="17.44" fill="#000">0.1</text>
<text transform="translate(108.30,3124.20) scale(0.9937,1)" x="-26.19 -15.77 -10.41" y="0" font-family='"Liberation Sans", sans-serif' font-size="17.44" fill="#000">0.2</text>
<text transform="translate(108.30,3086.50) scale(0.9917,1)" x="-26.24 -15.80 -10.18" y="0" font-family='"Liberation Sans", sans-serif' font-size="17.44" fill="#000">0.3</text>
<text transform="translate(108.30,3048.80) scale(1.0097,1)" x="-25.85 -15.56 -10.11" y="0" font-family='"Liberation Sans", sans-serif' font-size="17.44" fill="#000">0.4</text>
<text transform="translate(108.30,3011.10) scale(0.9841,1)" x="-26.40 -15.90 -10.31" y="0" font-family='"Liberation Sans", sans-serif' font-size="17.44" fill="#000">0.5</text>
<text transform="translate(727.10,2994.20) scale(1.0047,1)" x="-1.00 14.75 23.24 38.06 46.14 60.39 74.64 81.12 95.82 110.54 132.38 146.55 161.39 169.01 184.72 193.00 208.14 216.72 230.75 237.05 252.19 266.48 280.91" y="0" font-family='"Liberation Sans", sans-serif' font-size="24.71" fill="#000">Proton Temperature and </text>
<text transform="translate(1015.60,2994.20) scale(1.2407,1)" x="-1.06" y="0" font-family='"Liberation Serif", serif' font-size="22.92" font-style="italic" fill="#2a2a2a">T</text>
<text transform="translate(1031.00,2997.00) scale(0.9887,1)" x="0.22" y="0" font-family='"Liberation Serif", serif' font-size="16.04" font-style="italic" fill="#2a2a2a">e</text>
<text transform="translate(1039.60,2999.70) scale(1.1615,1)" x="0.53" y="0" font-family='"Liberation Serif", serif' font-size="31.63" fill="#000">/</text>
<text transform="translate(1050.30,2994.20) scale(1.2407,1)" x="-1.06" y="0" font-family='"Liberation Serif", serif' font-size="22.92" font-style="italic" fill="#2a2a2a">T</text>
<text transform="translate(1064.30,2997.00) scale(0.9945,1)" x="0.39" y="0" font-family='"Liberation Serif", serif' font-size="16.04" font-style="italic" fill="#2a2a2a">p</text>
<text transform="translate(64.00,3134.80) rotate(-90) scale(0.9927,1)" x="-0.20 10.84 20.84" y="0" font-family='"Liberation Sans", sans-serif' font-size="17.44" fill="#000">Tp(</text>
<text transform="translate(64.00,3107.50) rotate(-90) scale(0.9179,1)" x="-0.05 9.19" y="0" font-family='"Liberation Serif", serif' font-size="17.67" fill="#000">10</text>
<text transform="translate(57.60,3090.80) rotate(-90) scale(0.9164,1)" x="0.00" y="0" font-family='"Liberation Serif", serif' font-size="12.37" fill="#000">6</text>
<text transform="translate(64.00,3084.40) rotate(-90) scale(0.9144,1)" x="0.63 13.04" y="0" font-family='"Liberation Sans", sans-serif' font-size="17.44" fill="#000">K)</text>
<rect x="124" y="3013" width="71" height="27" fill="#fff" stroke="#000" stroke-width="2" shape-rendering="crispEdges"/>
<line x1="134.00" y1="3025.90" x2="156.05" y2="3025.90" stroke="#0000ff" stroke-width="2.08"/>
<text transform="translate(171.30,3030.60) scale(0.9937,1)" x="-0.40 9.26" y="0" font-family='"Liberation Sans", sans-serif' font-size="15.99" fill="#000">Tp</text>
</svg></body></html>
